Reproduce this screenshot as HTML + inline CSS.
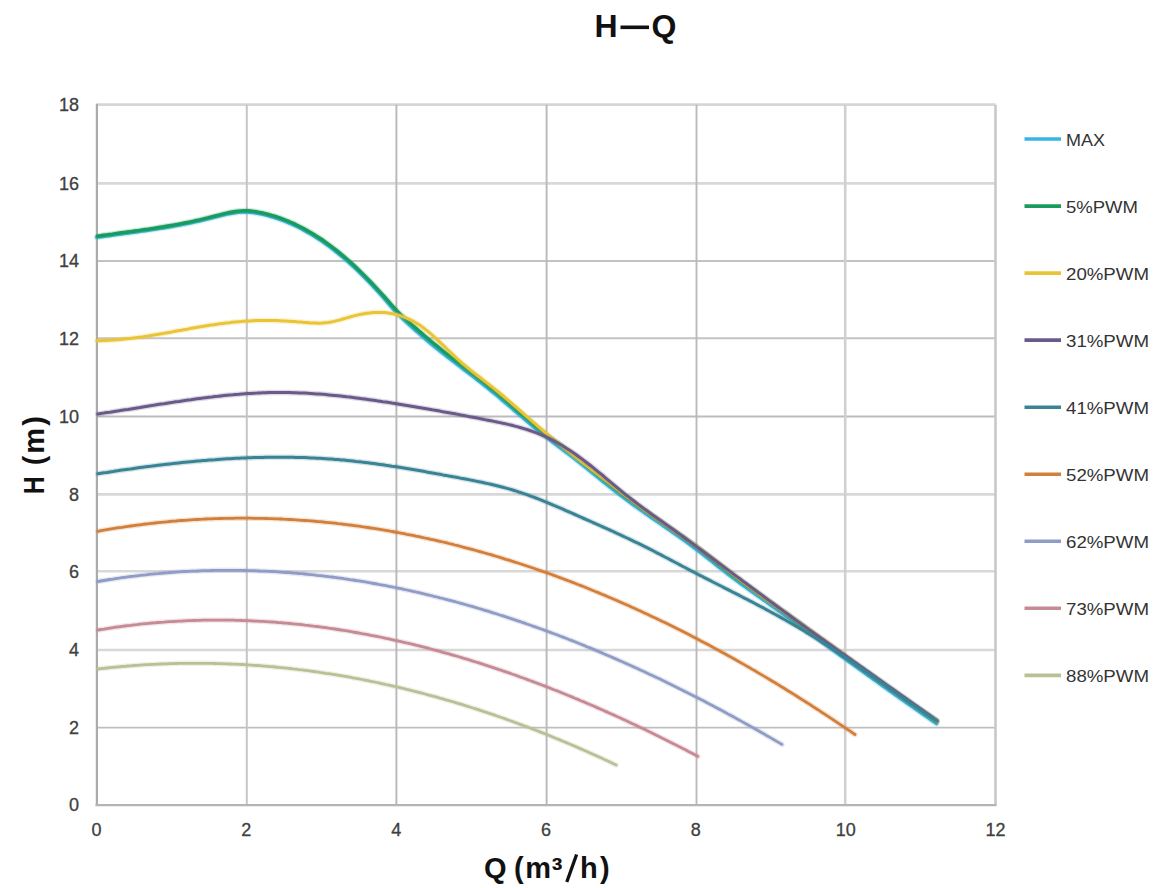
<!DOCTYPE html>
<html><head><meta charset="utf-8"><style>
html,body{margin:0;padding:0;background:#fff;}
body{width:1158px;height:888px;overflow:hidden;}
svg{display:block;}
.tk{font-family:"Liberation Sans",sans-serif;font-size:18px;fill:#404040;stroke:#404040;stroke-width:0.3px;}
.lg{font-family:"Liberation Sans",sans-serif;font-size:16.5px;fill:#333;}
.ttl{font-family:"Liberation Sans",sans-serif;font-weight:bold;fill:#111;}
</style></head><body>
<svg width="1158" height="888" viewBox="0 0 1158 888">
<rect width="1158" height="888" fill="#fff"/>
<line x1="96.5" y1="104.6" x2="995.5" y2="104.6" stroke="#d6d6d6" stroke-width="2.6"/>
<line x1="96.5" y1="183.4" x2="995.5" y2="183.4" stroke="#d8d8d8" stroke-width="2.6"/>
<line x1="96.5" y1="261.0" x2="995.5" y2="261.0" stroke="#c2c2c2" stroke-width="2.0"/>
<line x1="96.5" y1="338.2" x2="995.5" y2="338.2" stroke="#c3c3c3" stroke-width="2.0"/>
<line x1="96.5" y1="416.5" x2="995.5" y2="416.5" stroke="#bcbcbc" stroke-width="1.8"/>
<line x1="96.5" y1="494.4" x2="995.5" y2="494.4" stroke="#d8d8d8" stroke-width="2.6"/>
<line x1="96.5" y1="571.2" x2="995.5" y2="571.2" stroke="#d8d8d8" stroke-width="2.6"/>
<line x1="96.5" y1="650.0" x2="995.5" y2="650.0" stroke="#d8d8d8" stroke-width="2.6"/>
<line x1="96.5" y1="727.6" x2="995.5" y2="727.6" stroke="#bfbfbf" stroke-width="1.9"/>
<line x1="246.8" y1="104.8" x2="246.8" y2="805.0" stroke="#c6c6c6" stroke-width="2.0"/>
<line x1="396.4" y1="104.8" x2="396.4" y2="805.0" stroke="#b8b8b8" stroke-width="1.9"/>
<line x1="546.6" y1="104.8" x2="546.6" y2="805.0" stroke="#b9b9b9" stroke-width="1.9"/>
<line x1="696.5" y1="104.8" x2="696.5" y2="805.0" stroke="#bababa" stroke-width="1.9"/>
<line x1="845.2" y1="104.8" x2="845.2" y2="805.0" stroke="#d0d0d0" stroke-width="2.6"/>
<line x1="995.5" y1="104.8" x2="995.5" y2="805.0" stroke="#c8c8c8" stroke-width="2.6"/>
<line x1="96.9" y1="103.8" x2="96.9" y2="806.0" stroke="#ababab" stroke-width="2.2"/>
<line x1="95.5" y1="805.1" x2="996.5" y2="805.1" stroke="#b4b4b4" stroke-width="2.4"/>
<text x="79" y="811.00" text-anchor="end" class="tk">0</text>
<text x="79" y="733.90" text-anchor="end" class="tk">2</text>
<text x="79" y="656.40" text-anchor="end" class="tk">4</text>
<text x="79" y="577.50" text-anchor="end" class="tk">6</text>
<text x="79" y="500.70" text-anchor="end" class="tk">8</text>
<text x="79" y="422.90" text-anchor="end" class="tk">10</text>
<text x="79" y="344.50" text-anchor="end" class="tk">12</text>
<text x="79" y="267.20" text-anchor="end" class="tk">14</text>
<text x="79" y="189.70" text-anchor="end" class="tk">16</text>
<text x="79" y="110.90" text-anchor="end" class="tk">18</text>
<text x="96.50" y="835.8" text-anchor="middle" class="tk">0</text>
<text x="246.33" y="835.8" text-anchor="middle" class="tk">2</text>
<text x="396.17" y="835.8" text-anchor="middle" class="tk">4</text>
<text x="546.00" y="835.8" text-anchor="middle" class="tk">6</text>
<text x="695.83" y="835.8" text-anchor="middle" class="tk">8</text>
<text x="845.67" y="835.8" text-anchor="middle" class="tk">10</text>
<text x="995.50" y="835.8" text-anchor="middle" class="tk">12</text>
<path d="M96.9,237.4 L99.9,236.9 L102.9,236.5 L105.9,236.1 L108.9,235.7 L111.9,235.3 L114.9,234.8 L117.9,234.4 L120.9,234.0 L123.9,233.6 L126.9,233.2 L129.9,232.8 L132.9,232.4 L135.9,232.0 L138.9,231.6 L141.9,231.1 L144.9,230.7 L147.9,230.3 L150.9,229.8 L153.9,229.4 L156.9,228.9 L159.9,228.4 L162.9,228.0 L165.9,227.5 L168.9,227.0 L171.9,226.5 L174.9,225.9 L177.9,225.4 L180.9,224.8 L183.9,224.2 L186.9,223.6 L189.9,223.0 L192.9,222.4 L195.9,221.7 L198.9,221.1 L201.9,220.4 L204.9,219.6 L207.9,218.9 L210.9,218.1 L213.9,217.3 L216.9,216.5 L219.9,215.8 L222.9,215.0 L225.9,214.4 L228.9,213.7 L231.9,213.2 L234.9,212.7 L237.9,212.3 L240.9,212.1 L243.9,212.0 L246.9,212.0 L249.9,212.2 L252.9,212.6 L255.9,213.0 L258.9,213.6 L261.9,214.2 L264.9,214.9 L267.9,215.7 L270.9,216.5 L273.9,217.4 L276.9,218.4 L279.9,219.4 L282.9,220.5 L285.9,221.7 L288.9,222.9 L291.9,224.2 L294.9,225.6 L297.9,227.1 L300.9,228.6 L303.9,230.2 L306.9,231.9 L309.9,233.6 L312.9,235.4 L315.9,237.3 L318.9,239.2 L321.9,241.2 L324.9,243.3 L327.9,245.5 L330.9,247.7 L333.9,250.0 L336.9,252.4 L339.9,254.8 L342.9,257.3 L345.9,259.9 L348.9,262.5 L351.9,265.3 L354.9,268.0 L357.9,270.9 L360.9,273.8 L363.9,276.8 L366.9,279.8 L369.9,282.9 L372.9,286.1 L375.9,289.3 L378.9,292.6 L381.9,295.9 L384.9,299.4 L387.9,302.8 L390.9,306.3 L393.9,309.8 L396.9,313.0 L399.9,316.1 L402.9,318.9 L405.9,321.7 L408.9,324.5 L411.9,327.2 L414.9,329.9 L417.9,332.6 L420.9,335.2 L423.9,337.8 L426.9,340.4 L429.9,342.9 L432.9,345.4 L435.9,347.8 L438.9,350.2 L441.9,352.6 L444.9,355.0 L447.9,357.3 L450.9,359.6 L453.9,361.9 L456.9,364.2 L459.9,366.5 L462.9,368.8 L465.9,371.1 L468.9,373.4 L471.9,375.7 L474.9,378.0 L477.9,380.4 L480.9,382.7 L483.9,385.1 L486.9,387.5 L489.9,389.9 L492.9,392.3 L495.9,394.8 L498.9,397.3 L501.9,399.9 L504.9,402.4 L507.9,405.0 L510.9,407.5 L513.9,410.1 L516.9,412.7 L519.9,415.3 L522.9,417.8 L525.9,420.4 L528.9,422.9 L531.9,425.5 L534.9,428.0 L537.9,430.4 L540.9,432.9 L543.9,435.3 L546.9,437.7 L549.9,440.0 L552.9,442.3 L555.9,444.6 L558.9,446.8 L561.9,449.1 L564.9,451.4 L567.9,453.6 L570.9,455.9 L573.9,458.2 L576.9,460.6 L579.9,463.0 L582.9,465.3 L585.9,467.7 L588.9,470.2 L591.9,472.6 L594.9,475.0 L597.9,477.4 L600.9,479.9 L603.9,482.3 L606.9,484.7 L609.9,487.1 L612.9,489.5 L615.9,491.8 L618.9,494.1 L621.9,496.4 L624.9,498.7 L627.9,500.9 L630.9,503.1 L633.9,505.3 L636.9,507.5 L639.9,509.6 L642.9,511.7 L645.9,513.8 L648.9,515.9 L651.9,518.0 L654.9,520.1 L657.9,522.1 L660.9,524.2 L663.9,526.3 L666.9,528.3 L669.9,530.4 L672.9,532.5 L675.9,534.6 L678.9,536.7 L681.9,538.8 L684.9,541.0 L687.9,543.2 L690.9,545.4 L693.9,547.6 L696.9,549.8 L699.9,552.1 L702.9,554.5 L705.9,556.8 L708.9,559.1 L711.9,561.5 L714.9,563.9 L717.9,566.3 L720.9,568.6 L723.9,571.0 L726.9,573.3 L729.9,575.6 L732.9,577.9 L735.9,580.2 L738.9,582.4 L741.9,584.6 L744.9,586.7 L747.9,588.9 L750.9,591.0 L753.9,593.1 L756.9,595.3 L759.9,597.4 L762.9,599.6 L765.9,601.7 L768.9,603.9 L771.9,606.0 L774.9,608.2 L777.9,610.3 L780.9,612.5 L783.9,614.6 L786.9,616.8 L789.9,619.0 L792.9,621.1 L795.9,623.3 L798.9,625.5 L801.9,627.6 L804.9,629.8 L807.9,632.0 L810.9,634.1 L813.9,636.3 L816.9,638.5 L819.9,640.6 L822.9,642.8 L825.9,645.0 L828.9,647.2 L831.9,649.3 L834.9,651.5 L837.9,653.7 L840.9,655.8 L843.9,658.0 L846.9,660.2 L849.9,662.3 L852.9,664.5 L855.9,666.6 L858.9,668.8 L861.9,671.0 L864.9,673.1 L867.9,675.3 L870.9,677.4 L873.9,679.6 L876.9,681.7 L879.9,683.9 L882.9,686.0 L885.9,688.1 L888.9,690.3 L891.9,692.4 L894.9,694.5 L897.9,696.7 L900.9,698.8 L903.9,700.9 L906.9,703.0 L909.9,705.1 L912.9,707.2 L915.9,709.3 L918.9,711.4 L921.9,713.5 L924.9,715.6 L927.9,717.7 L930.9,719.8 L933.9,721.9 L936.4,723.6" fill="none" stroke="#38b4e6" stroke-opacity="0.22" stroke-width="6.0" stroke-linecap="round" stroke-linejoin="round"/><path d="M96.9,237.4 L99.9,236.9 L102.9,236.5 L105.9,236.1 L108.9,235.7 L111.9,235.3 L114.9,234.8 L117.9,234.4 L120.9,234.0 L123.9,233.6 L126.9,233.2 L129.9,232.8 L132.9,232.4 L135.9,232.0 L138.9,231.6 L141.9,231.1 L144.9,230.7 L147.9,230.3 L150.9,229.8 L153.9,229.4 L156.9,228.9 L159.9,228.4 L162.9,228.0 L165.9,227.5 L168.9,227.0 L171.9,226.5 L174.9,225.9 L177.9,225.4 L180.9,224.8 L183.9,224.2 L186.9,223.6 L189.9,223.0 L192.9,222.4 L195.9,221.7 L198.9,221.1 L201.9,220.4 L204.9,219.6 L207.9,218.9 L210.9,218.1 L213.9,217.3 L216.9,216.5 L219.9,215.8 L222.9,215.0 L225.9,214.4 L228.9,213.7 L231.9,213.2 L234.9,212.7 L237.9,212.3 L240.9,212.1 L243.9,212.0 L246.9,212.0 L249.9,212.2 L252.9,212.6 L255.9,213.0 L258.9,213.6 L261.9,214.2 L264.9,214.9 L267.9,215.7 L270.9,216.5 L273.9,217.4 L276.9,218.4 L279.9,219.4 L282.9,220.5 L285.9,221.7 L288.9,222.9 L291.9,224.2 L294.9,225.6 L297.9,227.1 L300.9,228.6 L303.9,230.2 L306.9,231.9 L309.9,233.6 L312.9,235.4 L315.9,237.3 L318.9,239.2 L321.9,241.2 L324.9,243.3 L327.9,245.5 L330.9,247.7 L333.9,250.0 L336.9,252.4 L339.9,254.8 L342.9,257.3 L345.9,259.9 L348.9,262.5 L351.9,265.3 L354.9,268.0 L357.9,270.9 L360.9,273.8 L363.9,276.8 L366.9,279.8 L369.9,282.9 L372.9,286.1 L375.9,289.3 L378.9,292.6 L381.9,295.9 L384.9,299.4 L387.9,302.8 L390.9,306.3 L393.9,309.8 L396.9,313.0 L399.9,316.1 L402.9,318.9 L405.9,321.7 L408.9,324.5 L411.9,327.2 L414.9,329.9 L417.9,332.6 L420.9,335.2 L423.9,337.8 L426.9,340.4 L429.9,342.9 L432.9,345.4 L435.9,347.8 L438.9,350.2 L441.9,352.6 L444.9,355.0 L447.9,357.3 L450.9,359.6 L453.9,361.9 L456.9,364.2 L459.9,366.5 L462.9,368.8 L465.9,371.1 L468.9,373.4 L471.9,375.7 L474.9,378.0 L477.9,380.4 L480.9,382.7 L483.9,385.1 L486.9,387.5 L489.9,389.9 L492.9,392.3 L495.9,394.8 L498.9,397.3 L501.9,399.9 L504.9,402.4 L507.9,405.0 L510.9,407.5 L513.9,410.1 L516.9,412.7 L519.9,415.3 L522.9,417.8 L525.9,420.4 L528.9,422.9 L531.9,425.5 L534.9,428.0 L537.9,430.4 L540.9,432.9 L543.9,435.3 L546.9,437.7 L549.9,440.0 L552.9,442.3 L555.9,444.6 L558.9,446.8 L561.9,449.1 L564.9,451.4 L567.9,453.6 L570.9,455.9 L573.9,458.2 L576.9,460.6 L579.9,463.0 L582.9,465.3 L585.9,467.7 L588.9,470.2 L591.9,472.6 L594.9,475.0 L597.9,477.4 L600.9,479.9 L603.9,482.3 L606.9,484.7 L609.9,487.1 L612.9,489.5 L615.9,491.8 L618.9,494.1 L621.9,496.4 L624.9,498.7 L627.9,500.9 L630.9,503.1 L633.9,505.3 L636.9,507.5 L639.9,509.6 L642.9,511.7 L645.9,513.8 L648.9,515.9 L651.9,518.0 L654.9,520.1 L657.9,522.1 L660.9,524.2 L663.9,526.3 L666.9,528.3 L669.9,530.4 L672.9,532.5 L675.9,534.6 L678.9,536.7 L681.9,538.8 L684.9,541.0 L687.9,543.2 L690.9,545.4 L693.9,547.6 L696.9,549.8 L699.9,552.1 L702.9,554.5 L705.9,556.8 L708.9,559.1 L711.9,561.5 L714.9,563.9 L717.9,566.3 L720.9,568.6 L723.9,571.0 L726.9,573.3 L729.9,575.6 L732.9,577.9 L735.9,580.2 L738.9,582.4 L741.9,584.6 L744.9,586.7 L747.9,588.9 L750.9,591.0 L753.9,593.1 L756.9,595.3 L759.9,597.4 L762.9,599.6 L765.9,601.7 L768.9,603.9 L771.9,606.0 L774.9,608.2 L777.9,610.3 L780.9,612.5 L783.9,614.6 L786.9,616.8 L789.9,619.0 L792.9,621.1 L795.9,623.3 L798.9,625.5 L801.9,627.6 L804.9,629.8 L807.9,632.0 L810.9,634.1 L813.9,636.3 L816.9,638.5 L819.9,640.6 L822.9,642.8 L825.9,645.0 L828.9,647.2 L831.9,649.3 L834.9,651.5 L837.9,653.7 L840.9,655.8 L843.9,658.0 L846.9,660.2 L849.9,662.3 L852.9,664.5 L855.9,666.6 L858.9,668.8 L861.9,671.0 L864.9,673.1 L867.9,675.3 L870.9,677.4 L873.9,679.6 L876.9,681.7 L879.9,683.9 L882.9,686.0 L885.9,688.1 L888.9,690.3 L891.9,692.4 L894.9,694.5 L897.9,696.7 L900.9,698.8 L903.9,700.9 L906.9,703.0 L909.9,705.1 L912.9,707.2 L915.9,709.3 L918.9,711.4 L921.9,713.5 L924.9,715.6 L927.9,717.7 L930.9,719.8 L933.9,721.9 L936.4,723.6" fill="none" stroke="#38b4e6" stroke-width="3.4" stroke-linecap="round" stroke-linejoin="round"/>
<path d="M97.5,236.2 L100.5,235.7 L103.5,235.3 L106.5,234.9 L109.5,234.5 L112.5,234.1 L115.5,233.6 L118.5,233.2 L121.5,232.8 L124.5,232.4 L127.5,232.0 L130.5,231.6 L133.5,231.2 L136.5,230.8 L139.5,230.4 L142.5,229.9 L145.5,229.5 L148.5,229.1 L151.5,228.6 L154.5,228.2 L157.5,227.7 L160.5,227.2 L163.5,226.8 L166.5,226.3 L169.5,225.8 L172.5,225.3 L175.5,224.7 L178.5,224.2 L181.5,223.6 L184.5,223.0 L187.5,222.4 L190.5,221.8 L193.5,221.2 L196.5,220.5 L199.5,219.9 L202.5,219.2 L205.5,218.4 L208.5,217.7 L211.5,216.9 L214.5,216.1 L217.5,215.3 L220.5,214.6 L223.5,213.8 L226.5,213.2 L229.5,212.5 L232.5,212.0 L235.5,211.5 L238.5,211.1 L241.5,210.9 L244.5,210.8 L247.5,210.8 L250.5,211.0 L253.5,211.4 L256.5,211.8 L259.5,212.4 L262.5,213.0 L265.5,213.7 L268.5,214.5 L271.5,215.3 L274.5,216.2 L277.5,217.2 L280.5,218.2 L283.5,219.3 L286.5,220.5 L289.5,221.7 L292.5,223.0 L295.5,224.4 L298.5,225.9 L301.5,227.4 L304.5,229.0 L307.5,230.7 L310.5,232.4 L313.5,234.2 L316.5,236.1 L319.5,238.0 L322.5,240.0 L325.5,242.1 L328.5,244.3 L331.5,246.5 L334.5,248.8 L337.5,251.2 L340.5,253.6 L343.5,256.1 L346.5,258.7 L349.5,261.3 L352.5,264.1 L355.5,266.8 L358.5,269.7 L361.5,272.6 L364.5,275.6 L367.5,278.6 L370.5,281.7 L373.5,284.9 L376.5,288.1 L379.5,291.4 L382.5,294.7 L385.5,298.0 L388.5,301.4 L391.5,304.9 L394.5,308.2 L397.5,311.4 L400.5,314.4 L403.5,317.2 L406.5,319.9 L409.5,322.6 L412.5,325.3 L415.5,327.9 L418.5,330.5 L421.5,333.1 L424.5,335.7 L427.5,338.3 L430.5,340.8 L433.5,343.3 L436.5,345.7 L439.5,348.1 L442.5,350.5 L445.5,352.9 L448.5,355.2 L451.5,357.5 L454.5,359.8 L457.5,362.1 L460.5,364.4 L463.5,366.7 L466.5,369.0 L469.5,371.3 L472.5,373.6 L475.5,375.9 L478.5,378.3 L481.5,380.6 L484.5,383.0 L487.5,385.4 L490.5,387.8 L493.5,390.2 L496.5,392.7 L499.5,395.2 L502.5,397.8 L505.5,400.3 L508.5,402.9 L511.5,405.4 L514.5,408.0 L517.5,410.6 L520.5,413.2 L523.5,415.7 L526.5,418.3 L529.5,420.8 L532.5,423.4 L535.5,425.9 L538.5,428.3 L541.5,430.8 L544.5,433.2 L547.5,435.6 L550.5,437.9 L553.5,440.2 L556.5,442.5 L559.5,444.7 L562.5,447.0 L565.5,449.3 L568.5,451.5 L571.5,453.8 L574.5,456.1 L577.5,458.5 L580.5,460.9 L583.5,463.2 L586.5,465.6 L589.5,468.1 L592.5,470.5 L595.5,472.9 L598.5,475.3 L601.5,477.8 L604.5,480.2 L607.5,482.6 L610.5,485.0 L613.5,487.4 L616.5,489.7 L619.5,492.0 L622.5,494.3 L625.5,496.6 L628.5,498.8 L631.5,501.0 L634.5,503.2 L637.5,505.4 L640.5,507.5 L643.5,509.6 L646.5,511.7 L649.5,513.8 L652.5,515.9 L655.5,518.0 L658.5,520.0 L661.5,522.1 L664.5,524.2 L667.5,526.2 L670.5,528.3 L673.5,530.4 L676.5,532.5 L679.5,534.6 L682.5,536.7 L685.5,538.9 L688.5,541.1 L691.5,543.3 L694.5,545.5 L697.5,547.7 L700.5,550.0 L703.5,552.4 L706.5,554.7 L709.5,557.0 L712.5,559.4 L715.5,561.8 L718.5,564.2 L721.5,566.5 L724.5,568.9 L727.5,571.2 L730.5,573.5 L733.5,575.8 L736.5,578.1 L739.5,580.3 L742.5,582.5 L745.5,584.6 L748.5,586.8 L751.5,588.9 L754.5,591.0 L757.5,593.2 L760.5,595.3 L763.5,597.5 L766.5,599.6 L769.5,601.8 L772.5,603.9 L775.5,606.1 L778.5,608.2 L781.5,610.4 L784.5,612.5 L787.5,614.7 L790.5,616.9 L793.5,619.0 L796.5,621.2 L799.5,623.4 L802.5,625.5 L805.5,627.7 L808.5,629.9 L811.5,632.0 L814.5,634.2 L817.5,636.4 L820.5,638.5 L823.5,640.7 L826.5,642.9 L829.5,645.1 L832.5,647.2 L835.5,649.4 L838.5,651.6 L841.5,653.7 L844.5,655.9 L847.5,658.1 L850.5,660.2 L853.5,662.4 L856.5,664.5 L859.5,666.7 L862.5,668.9 L865.5,671.0 L868.5,673.2 L871.5,675.3 L874.5,677.5 L877.5,679.6 L880.5,681.8 L883.5,683.9 L886.5,686.0 L889.5,688.2 L892.5,690.3 L895.5,692.4 L898.5,694.6 L901.5,696.7 L904.5,698.8 L907.5,700.9 L910.5,703.0 L913.5,705.1 L916.5,707.2 L919.5,709.3 L922.5,711.4 L925.5,713.5 L928.5,715.6 L931.5,717.7 L934.5,719.8 L937.0,721.5" fill="none" stroke="#1a9a5c" stroke-opacity="0.22" stroke-width="6.0" stroke-linecap="round" stroke-linejoin="round"/><path d="M97.5,236.2 L100.5,235.7 L103.5,235.3 L106.5,234.9 L109.5,234.5 L112.5,234.1 L115.5,233.6 L118.5,233.2 L121.5,232.8 L124.5,232.4 L127.5,232.0 L130.5,231.6 L133.5,231.2 L136.5,230.8 L139.5,230.4 L142.5,229.9 L145.5,229.5 L148.5,229.1 L151.5,228.6 L154.5,228.2 L157.5,227.7 L160.5,227.2 L163.5,226.8 L166.5,226.3 L169.5,225.8 L172.5,225.3 L175.5,224.7 L178.5,224.2 L181.5,223.6 L184.5,223.0 L187.5,222.4 L190.5,221.8 L193.5,221.2 L196.5,220.5 L199.5,219.9 L202.5,219.2 L205.5,218.4 L208.5,217.7 L211.5,216.9 L214.5,216.1 L217.5,215.3 L220.5,214.6 L223.5,213.8 L226.5,213.2 L229.5,212.5 L232.5,212.0 L235.5,211.5 L238.5,211.1 L241.5,210.9 L244.5,210.8 L247.5,210.8 L250.5,211.0 L253.5,211.4 L256.5,211.8 L259.5,212.4 L262.5,213.0 L265.5,213.7 L268.5,214.5 L271.5,215.3 L274.5,216.2 L277.5,217.2 L280.5,218.2 L283.5,219.3 L286.5,220.5 L289.5,221.7 L292.5,223.0 L295.5,224.4 L298.5,225.9 L301.5,227.4 L304.5,229.0 L307.5,230.7 L310.5,232.4 L313.5,234.2 L316.5,236.1 L319.5,238.0 L322.5,240.0 L325.5,242.1 L328.5,244.3 L331.5,246.5 L334.5,248.8 L337.5,251.2 L340.5,253.6 L343.5,256.1 L346.5,258.7 L349.5,261.3 L352.5,264.1 L355.5,266.8 L358.5,269.7 L361.5,272.6 L364.5,275.6 L367.5,278.6 L370.5,281.7 L373.5,284.9 L376.5,288.1 L379.5,291.4 L382.5,294.7 L385.5,298.0 L388.5,301.4 L391.5,304.9 L394.5,308.2 L397.5,311.4 L400.5,314.4 L403.5,317.2 L406.5,319.9 L409.5,322.6 L412.5,325.3 L415.5,327.9 L418.5,330.5 L421.5,333.1 L424.5,335.7 L427.5,338.3 L430.5,340.8 L433.5,343.3 L436.5,345.7 L439.5,348.1 L442.5,350.5 L445.5,352.9 L448.5,355.2 L451.5,357.5 L454.5,359.8 L457.5,362.1 L460.5,364.4 L463.5,366.7 L466.5,369.0 L469.5,371.3 L472.5,373.6 L475.5,375.9 L478.5,378.3 L481.5,380.6 L484.5,383.0 L487.5,385.4 L490.5,387.8 L493.5,390.2 L496.5,392.7 L499.5,395.2 L502.5,397.8 L505.5,400.3 L508.5,402.9 L511.5,405.4 L514.5,408.0 L517.5,410.6 L520.5,413.2 L523.5,415.7 L526.5,418.3 L529.5,420.8 L532.5,423.4 L535.5,425.9 L538.5,428.3 L541.5,430.8 L544.5,433.2 L547.5,435.6 L550.5,437.9 L553.5,440.2 L556.5,442.5 L559.5,444.7 L562.5,447.0 L565.5,449.3 L568.5,451.5 L571.5,453.8 L574.5,456.1 L577.5,458.5 L580.5,460.9 L583.5,463.2 L586.5,465.6 L589.5,468.1 L592.5,470.5 L595.5,472.9 L598.5,475.3 L601.5,477.8 L604.5,480.2 L607.5,482.6 L610.5,485.0 L613.5,487.4 L616.5,489.7 L619.5,492.0 L622.5,494.3 L625.5,496.6 L628.5,498.8 L631.5,501.0 L634.5,503.2 L637.5,505.4 L640.5,507.5 L643.5,509.6 L646.5,511.7 L649.5,513.8 L652.5,515.9 L655.5,518.0 L658.5,520.0 L661.5,522.1 L664.5,524.2 L667.5,526.2 L670.5,528.3 L673.5,530.4 L676.5,532.5 L679.5,534.6 L682.5,536.7 L685.5,538.9 L688.5,541.1 L691.5,543.3 L694.5,545.5 L697.5,547.7 L700.5,550.0 L703.5,552.4 L706.5,554.7 L709.5,557.0 L712.5,559.4 L715.5,561.8 L718.5,564.2 L721.5,566.5 L724.5,568.9 L727.5,571.2 L730.5,573.5 L733.5,575.8 L736.5,578.1 L739.5,580.3 L742.5,582.5 L745.5,584.6 L748.5,586.8 L751.5,588.9 L754.5,591.0 L757.5,593.2 L760.5,595.3 L763.5,597.5 L766.5,599.6 L769.5,601.8 L772.5,603.9 L775.5,606.1 L778.5,608.2 L781.5,610.4 L784.5,612.5 L787.5,614.7 L790.5,616.9 L793.5,619.0 L796.5,621.2 L799.5,623.4 L802.5,625.5 L805.5,627.7 L808.5,629.9 L811.5,632.0 L814.5,634.2 L817.5,636.4 L820.5,638.5 L823.5,640.7 L826.5,642.9 L829.5,645.1 L832.5,647.2 L835.5,649.4 L838.5,651.6 L841.5,653.7 L844.5,655.9 L847.5,658.1 L850.5,660.2 L853.5,662.4 L856.5,664.5 L859.5,666.7 L862.5,668.9 L865.5,671.0 L868.5,673.2 L871.5,675.3 L874.5,677.5 L877.5,679.6 L880.5,681.8 L883.5,683.9 L886.5,686.0 L889.5,688.2 L892.5,690.3 L895.5,692.4 L898.5,694.6 L901.5,696.7 L904.5,698.8 L907.5,700.9 L910.5,703.0 L913.5,705.1 L916.5,707.2 L919.5,709.3 L922.5,711.4 L925.5,713.5 L928.5,715.6 L931.5,717.7 L934.5,719.8 L937.0,721.5" fill="none" stroke="#1a9a5c" stroke-width="3.4" stroke-linecap="round" stroke-linejoin="round"/>
<path d="M97.0,340.7 L100.0,340.7 L103.0,340.6 L106.0,340.5 L109.0,340.3 L112.0,340.1 L115.0,339.9 L118.0,339.7 L121.0,339.4 L124.0,339.1 L127.0,338.8 L130.0,338.5 L133.0,338.1 L136.0,337.7 L139.0,337.3 L142.0,336.9 L145.0,336.4 L148.0,336.0 L151.0,335.5 L154.0,335.0 L157.0,334.5 L160.0,334.0 L163.0,333.5 L166.0,332.9 L169.0,332.4 L172.0,331.9 L175.0,331.3 L178.0,330.8 L181.0,330.3 L184.0,329.7 L187.0,329.2 L190.0,328.6 L193.0,328.1 L196.0,327.6 L199.0,327.1 L202.0,326.6 L205.0,326.1 L208.0,325.6 L211.0,325.1 L214.0,324.7 L217.0,324.2 L220.0,323.8 L223.0,323.4 L226.0,323.0 L229.0,322.7 L232.0,322.3 L235.0,322.0 L238.0,321.7 L241.0,321.5 L244.0,321.2 L247.0,321.0 L250.0,320.9 L253.0,320.7 L256.0,320.6 L259.0,320.5 L262.0,320.5 L265.0,320.5 L268.0,320.5 L271.0,320.5 L274.0,320.5 L277.0,320.6 L280.0,320.7 L283.0,320.9 L286.0,321.0 L289.0,321.2 L292.0,321.4 L295.0,321.6 L298.0,321.9 L301.0,322.1 L304.0,322.4 L307.0,322.6 L310.0,322.9 L313.0,323.0 L316.0,323.1 L319.0,323.2 L322.0,323.1 L325.0,322.8 L328.0,322.5 L331.0,322.0 L334.0,321.4 L337.0,320.6 L340.0,319.9 L343.0,319.0 L346.0,318.1 L349.0,317.3 L352.0,316.4 L355.0,315.6 L358.0,314.9 L361.0,314.3 L364.0,313.7 L367.0,313.2 L370.0,312.9 L373.0,312.6 L376.0,312.4 L379.0,312.4 L382.0,312.4 L385.0,312.6 L388.0,312.9 L391.0,313.4 L394.0,314.0 L397.0,314.7 L400.0,315.6 L403.0,316.6 L406.0,317.8 L409.0,319.1 L412.0,320.6 L415.0,322.3 L418.0,324.1 L421.0,326.1 L424.0,328.3 L427.0,330.7 L430.0,333.2 L433.0,335.8 L436.0,338.6 L439.0,341.3 L442.0,344.2 L445.0,347.1 L448.0,350.0 L451.0,352.9 L454.0,355.7 L457.0,358.5 L460.0,361.2 L463.0,363.9 L466.0,366.4 L469.0,368.9 L472.0,371.3 L475.0,373.7 L478.0,376.0 L481.0,378.3 L484.0,380.6 L487.0,382.9 L490.0,385.3 L493.0,387.7 L496.0,390.1 L499.0,392.5 L502.0,395.0 L505.0,397.6 L508.0,400.1 L511.0,402.7 L514.0,405.3 L517.0,407.9 L520.0,410.5 L523.0,413.2 L526.0,415.8 L529.0,418.5 L532.0,421.1 L535.0,423.7 L538.0,426.3 L541.0,428.9 L544.0,431.5 L547.0,434.0 L550.0,436.6 L553.0,439.0 L556.0,441.5 L559.0,443.9 L562.0,446.4 L565.0,448.8 L568.0,451.1 L571.0,453.5 L574.0,455.8 L577.0,458.2 L580.0,460.5 L583.0,462.8 L586.0,465.1 L589.0,467.4 L592.0,469.8 L595.0,472.1 L598.0,474.4 L601.0,476.7 L604.0,479.0 L607.0,481.3 L610.0,483.7 L613.0,486.0 L616.0,488.3 L619.0,490.6 L622.0,493.0 L625.0,495.3 L628.0,497.6 L631.0,499.9 L634.0,502.2 L637.0,504.4 L640.0,506.6 L643.0,508.9 L646.0,511.0 L649.0,513.2 L652.0,515.3 L655.0,517.4 L658.0,519.5 L661.0,521.6 L664.0,523.7 L667.0,525.7 L670.0,527.8 L673.0,529.9 L676.0,531.9 L679.0,534.0 L682.0,536.1 L685.0,538.1 L688.0,540.3 L691.0,542.4 L694.0,544.5 L697.0,546.7 L700.0,548.9 L703.0,551.2 L706.0,553.4 L709.0,555.7 L712.0,558.0 L715.0,560.3 L718.0,562.7 L721.0,565.0 L724.0,567.3 L727.0,569.7 L730.0,572.0 L733.0,574.4 L736.0,576.7 L739.0,579.0 L742.0,581.3 L745.0,583.6 L748.0,585.9 L751.0,588.1 L754.0,590.3 L757.0,592.5 L760.0,594.7 L763.0,596.9 L766.0,599.1 L769.0,601.2 L772.0,603.3 L775.0,605.5 L778.0,607.6 L781.0,609.7 L784.0,611.8 L787.0,613.9 L790.0,616.1 L793.0,618.2 L796.0,620.3 L799.0,622.4 L802.0,624.6 L805.0,626.7 L808.0,628.8 L811.0,631.0 L814.0,633.1 L817.0,635.3 L820.0,637.5 L823.0,639.6 L826.0,641.8 L829.0,643.9 L832.0,646.1 L835.0,648.3 L838.0,650.5 L841.0,652.6 L844.0,654.8 L847.0,657.0 L850.0,659.1 L853.0,661.3 L856.0,663.5 L859.0,665.7 L862.0,667.8 L865.0,670.0 L868.0,672.2 L871.0,674.3 L874.0,676.5 L877.0,678.6 L880.0,680.8 L883.0,683.0 L886.0,685.1 L889.0,687.3 L892.0,689.4 L895.0,691.5 L898.0,693.7 L901.0,695.8 L904.0,697.9 L907.0,700.0 L910.0,702.2 L913.0,704.3 L916.0,706.4 L919.0,708.5 L922.0,710.6 L925.0,712.6 L928.0,714.7 L931.0,716.8 L934.0,718.8 L937.0,720.9" fill="none" stroke="#eac437" stroke-opacity="0.22" stroke-width="5.6" stroke-linecap="round" stroke-linejoin="round"/><path d="M97.0,340.7 L100.0,340.7 L103.0,340.6 L106.0,340.5 L109.0,340.3 L112.0,340.1 L115.0,339.9 L118.0,339.7 L121.0,339.4 L124.0,339.1 L127.0,338.8 L130.0,338.5 L133.0,338.1 L136.0,337.7 L139.0,337.3 L142.0,336.9 L145.0,336.4 L148.0,336.0 L151.0,335.5 L154.0,335.0 L157.0,334.5 L160.0,334.0 L163.0,333.5 L166.0,332.9 L169.0,332.4 L172.0,331.9 L175.0,331.3 L178.0,330.8 L181.0,330.3 L184.0,329.7 L187.0,329.2 L190.0,328.6 L193.0,328.1 L196.0,327.6 L199.0,327.1 L202.0,326.6 L205.0,326.1 L208.0,325.6 L211.0,325.1 L214.0,324.7 L217.0,324.2 L220.0,323.8 L223.0,323.4 L226.0,323.0 L229.0,322.7 L232.0,322.3 L235.0,322.0 L238.0,321.7 L241.0,321.5 L244.0,321.2 L247.0,321.0 L250.0,320.9 L253.0,320.7 L256.0,320.6 L259.0,320.5 L262.0,320.5 L265.0,320.5 L268.0,320.5 L271.0,320.5 L274.0,320.5 L277.0,320.6 L280.0,320.7 L283.0,320.9 L286.0,321.0 L289.0,321.2 L292.0,321.4 L295.0,321.6 L298.0,321.9 L301.0,322.1 L304.0,322.4 L307.0,322.6 L310.0,322.9 L313.0,323.0 L316.0,323.1 L319.0,323.2 L322.0,323.1 L325.0,322.8 L328.0,322.5 L331.0,322.0 L334.0,321.4 L337.0,320.6 L340.0,319.9 L343.0,319.0 L346.0,318.1 L349.0,317.3 L352.0,316.4 L355.0,315.6 L358.0,314.9 L361.0,314.3 L364.0,313.7 L367.0,313.2 L370.0,312.9 L373.0,312.6 L376.0,312.4 L379.0,312.4 L382.0,312.4 L385.0,312.6 L388.0,312.9 L391.0,313.4 L394.0,314.0 L397.0,314.7 L400.0,315.6 L403.0,316.6 L406.0,317.8 L409.0,319.1 L412.0,320.6 L415.0,322.3 L418.0,324.1 L421.0,326.1 L424.0,328.3 L427.0,330.7 L430.0,333.2 L433.0,335.8 L436.0,338.6 L439.0,341.3 L442.0,344.2 L445.0,347.1 L448.0,350.0 L451.0,352.9 L454.0,355.7 L457.0,358.5 L460.0,361.2 L463.0,363.9 L466.0,366.4 L469.0,368.9 L472.0,371.3 L475.0,373.7 L478.0,376.0 L481.0,378.3 L484.0,380.6 L487.0,382.9 L490.0,385.3 L493.0,387.7 L496.0,390.1 L499.0,392.5 L502.0,395.0 L505.0,397.6 L508.0,400.1 L511.0,402.7 L514.0,405.3 L517.0,407.9 L520.0,410.5 L523.0,413.2 L526.0,415.8 L529.0,418.5 L532.0,421.1 L535.0,423.7 L538.0,426.3 L541.0,428.9 L544.0,431.5 L547.0,434.0 L550.0,436.6 L553.0,439.0 L556.0,441.5 L559.0,443.9 L562.0,446.4 L565.0,448.8 L568.0,451.1 L571.0,453.5 L574.0,455.8 L577.0,458.2 L580.0,460.5 L583.0,462.8 L586.0,465.1 L589.0,467.4 L592.0,469.8 L595.0,472.1 L598.0,474.4 L601.0,476.7 L604.0,479.0 L607.0,481.3 L610.0,483.7 L613.0,486.0 L616.0,488.3 L619.0,490.6 L622.0,493.0 L625.0,495.3 L628.0,497.6 L631.0,499.9 L634.0,502.2 L637.0,504.4 L640.0,506.6 L643.0,508.9 L646.0,511.0 L649.0,513.2 L652.0,515.3 L655.0,517.4 L658.0,519.5 L661.0,521.6 L664.0,523.7 L667.0,525.7 L670.0,527.8 L673.0,529.9 L676.0,531.9 L679.0,534.0 L682.0,536.1 L685.0,538.1 L688.0,540.3 L691.0,542.4 L694.0,544.5 L697.0,546.7 L700.0,548.9 L703.0,551.2 L706.0,553.4 L709.0,555.7 L712.0,558.0 L715.0,560.3 L718.0,562.7 L721.0,565.0 L724.0,567.3 L727.0,569.7 L730.0,572.0 L733.0,574.4 L736.0,576.7 L739.0,579.0 L742.0,581.3 L745.0,583.6 L748.0,585.9 L751.0,588.1 L754.0,590.3 L757.0,592.5 L760.0,594.7 L763.0,596.9 L766.0,599.1 L769.0,601.2 L772.0,603.3 L775.0,605.5 L778.0,607.6 L781.0,609.7 L784.0,611.8 L787.0,613.9 L790.0,616.1 L793.0,618.2 L796.0,620.3 L799.0,622.4 L802.0,624.6 L805.0,626.7 L808.0,628.8 L811.0,631.0 L814.0,633.1 L817.0,635.3 L820.0,637.5 L823.0,639.6 L826.0,641.8 L829.0,643.9 L832.0,646.1 L835.0,648.3 L838.0,650.5 L841.0,652.6 L844.0,654.8 L847.0,657.0 L850.0,659.1 L853.0,661.3 L856.0,663.5 L859.0,665.7 L862.0,667.8 L865.0,670.0 L868.0,672.2 L871.0,674.3 L874.0,676.5 L877.0,678.6 L880.0,680.8 L883.0,683.0 L886.0,685.1 L889.0,687.3 L892.0,689.4 L895.0,691.5 L898.0,693.7 L901.0,695.8 L904.0,697.9 L907.0,700.0 L910.0,702.2 L913.0,704.3 L916.0,706.4 L919.0,708.5 L922.0,710.6 L925.0,712.6 L928.0,714.7 L931.0,716.8 L934.0,718.8 L937.0,720.9" fill="none" stroke="#eac437" stroke-width="3" stroke-linecap="round" stroke-linejoin="round"/>
<path d="M97.9,414.0 L100.9,413.5 L103.9,413.1 L106.9,412.6 L109.9,412.2 L112.9,411.7 L115.9,411.2 L118.9,410.8 L121.9,410.3 L124.9,409.8 L127.9,409.4 L130.9,408.9 L133.9,408.4 L136.9,407.9 L139.9,407.5 L142.9,407.0 L145.9,406.5 L148.9,406.0 L151.9,405.5 L154.9,405.1 L157.9,404.6 L160.9,404.1 L163.9,403.7 L166.9,403.2 L169.9,402.7 L172.9,402.3 L175.9,401.8 L178.9,401.4 L181.9,400.9 L184.9,400.5 L187.9,400.1 L190.9,399.7 L193.9,399.2 L196.9,398.8 L199.9,398.4 L202.9,398.1 L205.9,397.7 L208.9,397.3 L211.9,397.0 L214.9,396.6 L217.9,396.3 L220.9,395.9 L223.9,395.6 L226.9,395.3 L229.9,395.0 L232.9,394.8 L235.9,394.5 L238.9,394.3 L241.9,394.0 L244.9,393.8 L247.9,393.6 L250.9,393.4 L253.9,393.2 L256.9,393.1 L259.9,392.9 L262.9,392.8 L265.9,392.7 L268.9,392.6 L271.9,392.6 L274.9,392.5 L277.9,392.5 L280.9,392.5 L283.9,392.5 L286.9,392.5 L289.9,392.6 L292.9,392.7 L295.9,392.8 L298.9,392.9 L301.9,393.0 L304.9,393.1 L307.9,393.3 L310.9,393.5 L313.9,393.7 L316.9,393.9 L319.9,394.1 L322.9,394.3 L325.9,394.6 L328.9,394.9 L331.9,395.2 L334.9,395.5 L337.9,395.8 L340.9,396.1 L343.9,396.4 L346.9,396.8 L349.9,397.1 L352.9,397.5 L355.9,397.9 L358.9,398.3 L361.9,398.7 L364.9,399.1 L367.9,399.5 L370.9,399.9 L373.9,400.3 L376.9,400.8 L379.9,401.2 L382.9,401.7 L385.9,402.1 L388.9,402.6 L391.9,403.1 L394.9,403.5 L397.9,404.0 L400.9,404.5 L403.9,405.0 L406.9,405.5 L409.9,406.0 L412.9,406.5 L415.9,407.0 L418.9,407.5 L421.9,408.0 L424.9,408.5 L427.9,409.0 L430.9,409.5 L433.9,410.1 L436.9,410.6 L439.9,411.1 L442.9,411.7 L445.9,412.2 L448.9,412.7 L451.9,413.3 L454.9,413.8 L457.9,414.4 L460.9,415.0 L463.9,415.5 L466.9,416.1 L469.9,416.7 L472.9,417.2 L475.9,417.8 L478.9,418.4 L481.9,419.0 L484.9,419.6 L487.9,420.2 L490.9,420.8 L493.9,421.4 L496.9,422.0 L499.9,422.6 L502.9,423.3 L505.9,423.9 L508.9,424.6 L511.9,425.3 L514.9,426.1 L517.9,426.9 L520.9,427.7 L523.9,428.6 L526.9,429.5 L529.9,430.5 L532.9,431.6 L535.9,432.7 L538.9,433.8 L541.9,435.1 L544.9,436.4 L547.9,437.8 L550.9,439.3 L553.9,440.9 L556.9,442.5 L559.9,444.2 L562.9,446.0 L565.9,447.9 L568.9,449.8 L571.9,451.8 L574.9,453.8 L577.9,455.9 L580.9,458.1 L583.9,460.4 L586.9,462.7 L589.9,465.0 L592.9,467.4 L595.9,469.8 L598.9,472.3 L601.9,474.7 L604.9,477.3 L607.9,479.8 L610.9,482.3 L613.9,484.8 L616.9,487.4 L619.9,489.9 L622.9,492.3 L625.9,494.8 L628.9,497.2 L631.9,499.5 L634.9,501.8 L637.9,504.1 L640.9,506.4 L643.9,508.6 L646.9,510.8 L649.9,513.0 L652.9,515.2 L655.9,517.3 L658.9,519.5 L661.9,521.6 L664.9,523.7 L667.9,525.9 L670.9,528.0 L673.9,530.1 L676.9,532.2 L679.9,534.4 L682.9,536.5 L685.9,538.7 L688.9,540.9 L691.9,543.1 L694.9,545.3 L697.9,547.6 L700.9,549.8 L703.9,552.0 L706.9,554.2 L709.9,556.5 L712.9,558.7 L715.9,560.9 L718.9,563.2 L721.9,565.4 L724.9,567.7 L727.9,569.9 L730.9,572.1 L733.9,574.4 L736.9,576.6 L739.9,578.8 L742.9,581.1 L745.9,583.3 L748.9,585.5 L751.9,587.7 L754.9,590.0 L757.9,592.2 L760.9,594.4 L763.9,596.6 L766.9,598.9 L769.9,601.1 L772.9,603.3 L775.9,605.5 L778.9,607.7 L781.9,609.9 L784.9,612.1 L787.9,614.3 L790.9,616.5 L793.9,618.7 L796.9,620.9 L799.9,623.0 L802.9,625.2 L805.9,627.4 L808.9,629.6 L811.9,631.7 L814.9,633.9 L817.9,636.0 L820.9,638.2 L823.9,640.3 L826.9,642.5 L829.9,644.6 L832.9,646.8 L835.9,648.9 L838.9,651.0 L841.9,653.2 L844.9,655.3 L847.9,657.5 L850.9,659.6 L853.9,661.7 L856.9,663.8 L859.9,666.0 L862.9,668.1 L865.9,670.2 L868.9,672.3 L871.9,674.5 L874.9,676.6 L877.9,678.7 L880.9,680.8 L883.9,682.9 L886.9,685.1 L889.9,687.2 L892.9,689.3 L895.9,691.4 L898.9,693.5 L901.9,695.7 L904.9,697.8 L907.9,699.9 L910.9,702.0 L913.9,704.2 L916.9,706.3 L919.9,708.4 L922.9,710.5 L925.9,712.7 L928.9,714.8 L931.9,716.9 L934.9,719.1 L937.0,720.6" fill="none" stroke="#6a5a8a" stroke-opacity="0.22" stroke-width="5.6" stroke-linecap="round" stroke-linejoin="round"/><path d="M97.9,414.0 L100.9,413.5 L103.9,413.1 L106.9,412.6 L109.9,412.2 L112.9,411.7 L115.9,411.2 L118.9,410.8 L121.9,410.3 L124.9,409.8 L127.9,409.4 L130.9,408.9 L133.9,408.4 L136.9,407.9 L139.9,407.5 L142.9,407.0 L145.9,406.5 L148.9,406.0 L151.9,405.5 L154.9,405.1 L157.9,404.6 L160.9,404.1 L163.9,403.7 L166.9,403.2 L169.9,402.7 L172.9,402.3 L175.9,401.8 L178.9,401.4 L181.9,400.9 L184.9,400.5 L187.9,400.1 L190.9,399.7 L193.9,399.2 L196.9,398.8 L199.9,398.4 L202.9,398.1 L205.9,397.7 L208.9,397.3 L211.9,397.0 L214.9,396.6 L217.9,396.3 L220.9,395.9 L223.9,395.6 L226.9,395.3 L229.9,395.0 L232.9,394.8 L235.9,394.5 L238.9,394.3 L241.9,394.0 L244.9,393.8 L247.9,393.6 L250.9,393.4 L253.9,393.2 L256.9,393.1 L259.9,392.9 L262.9,392.8 L265.9,392.7 L268.9,392.6 L271.9,392.6 L274.9,392.5 L277.9,392.5 L280.9,392.5 L283.9,392.5 L286.9,392.5 L289.9,392.6 L292.9,392.7 L295.9,392.8 L298.9,392.9 L301.9,393.0 L304.9,393.1 L307.9,393.3 L310.9,393.5 L313.9,393.7 L316.9,393.9 L319.9,394.1 L322.9,394.3 L325.9,394.6 L328.9,394.9 L331.9,395.2 L334.9,395.5 L337.9,395.8 L340.9,396.1 L343.9,396.4 L346.9,396.8 L349.9,397.1 L352.9,397.5 L355.9,397.9 L358.9,398.3 L361.9,398.7 L364.9,399.1 L367.9,399.5 L370.9,399.9 L373.9,400.3 L376.9,400.8 L379.9,401.2 L382.9,401.7 L385.9,402.1 L388.9,402.6 L391.9,403.1 L394.9,403.5 L397.9,404.0 L400.9,404.5 L403.9,405.0 L406.9,405.5 L409.9,406.0 L412.9,406.5 L415.9,407.0 L418.9,407.5 L421.9,408.0 L424.9,408.5 L427.9,409.0 L430.9,409.5 L433.9,410.1 L436.9,410.6 L439.9,411.1 L442.9,411.7 L445.9,412.2 L448.9,412.7 L451.9,413.3 L454.9,413.8 L457.9,414.4 L460.9,415.0 L463.9,415.5 L466.9,416.1 L469.9,416.7 L472.9,417.2 L475.9,417.8 L478.9,418.4 L481.9,419.0 L484.9,419.6 L487.9,420.2 L490.9,420.8 L493.9,421.4 L496.9,422.0 L499.9,422.6 L502.9,423.3 L505.9,423.9 L508.9,424.6 L511.9,425.3 L514.9,426.1 L517.9,426.9 L520.9,427.7 L523.9,428.6 L526.9,429.5 L529.9,430.5 L532.9,431.6 L535.9,432.7 L538.9,433.8 L541.9,435.1 L544.9,436.4 L547.9,437.8 L550.9,439.3 L553.9,440.9 L556.9,442.5 L559.9,444.2 L562.9,446.0 L565.9,447.9 L568.9,449.8 L571.9,451.8 L574.9,453.8 L577.9,455.9 L580.9,458.1 L583.9,460.4 L586.9,462.7 L589.9,465.0 L592.9,467.4 L595.9,469.8 L598.9,472.3 L601.9,474.7 L604.9,477.3 L607.9,479.8 L610.9,482.3 L613.9,484.8 L616.9,487.4 L619.9,489.9 L622.9,492.3 L625.9,494.8 L628.9,497.2 L631.9,499.5 L634.9,501.8 L637.9,504.1 L640.9,506.4 L643.9,508.6 L646.9,510.8 L649.9,513.0 L652.9,515.2 L655.9,517.3 L658.9,519.5 L661.9,521.6 L664.9,523.7 L667.9,525.9 L670.9,528.0 L673.9,530.1 L676.9,532.2 L679.9,534.4 L682.9,536.5 L685.9,538.7 L688.9,540.9 L691.9,543.1 L694.9,545.3 L697.9,547.6 L700.9,549.8 L703.9,552.0 L706.9,554.2 L709.9,556.5 L712.9,558.7 L715.9,560.9 L718.9,563.2 L721.9,565.4 L724.9,567.7 L727.9,569.9 L730.9,572.1 L733.9,574.4 L736.9,576.6 L739.9,578.8 L742.9,581.1 L745.9,583.3 L748.9,585.5 L751.9,587.7 L754.9,590.0 L757.9,592.2 L760.9,594.4 L763.9,596.6 L766.9,598.9 L769.9,601.1 L772.9,603.3 L775.9,605.5 L778.9,607.7 L781.9,609.9 L784.9,612.1 L787.9,614.3 L790.9,616.5 L793.9,618.7 L796.9,620.9 L799.9,623.0 L802.9,625.2 L805.9,627.4 L808.9,629.6 L811.9,631.7 L814.9,633.9 L817.9,636.0 L820.9,638.2 L823.9,640.3 L826.9,642.5 L829.9,644.6 L832.9,646.8 L835.9,648.9 L838.9,651.0 L841.9,653.2 L844.9,655.3 L847.9,657.5 L850.9,659.6 L853.9,661.7 L856.9,663.8 L859.9,666.0 L862.9,668.1 L865.9,670.2 L868.9,672.3 L871.9,674.5 L874.9,676.6 L877.9,678.7 L880.9,680.8 L883.9,682.9 L886.9,685.1 L889.9,687.2 L892.9,689.3 L895.9,691.4 L898.9,693.5 L901.9,695.7 L904.9,697.8 L907.9,699.9 L910.9,702.0 L913.9,704.2 L916.9,706.3 L919.9,708.4 L922.9,710.5 L925.9,712.7 L928.9,714.8 L931.9,716.9 L934.9,719.1 L937.0,720.6" fill="none" stroke="#6a5a8a" stroke-width="3" stroke-linecap="round" stroke-linejoin="round"/>
<path d="M97.9,473.8 L100.9,473.3 L103.9,472.8 L106.9,472.4 L109.9,471.9 L112.9,471.5 L115.9,471.0 L118.9,470.6 L121.9,470.1 L124.9,469.7 L127.9,469.3 L130.9,468.9 L133.9,468.4 L136.9,468.0 L139.9,467.6 L142.9,467.2 L145.9,466.8 L148.9,466.4 L151.9,466.1 L154.9,465.7 L157.9,465.3 L160.9,464.9 L163.9,464.6 L166.9,464.2 L169.9,463.9 L172.9,463.6 L175.9,463.2 L178.9,462.9 L181.9,462.6 L184.9,462.3 L187.9,462.0 L190.9,461.7 L193.9,461.4 L196.9,461.1 L199.9,460.9 L202.9,460.6 L205.9,460.4 L208.9,460.1 L211.9,459.9 L214.9,459.7 L217.9,459.4 L220.9,459.2 L223.9,459.0 L226.9,458.8 L229.9,458.7 L232.9,458.5 L235.9,458.3 L238.9,458.2 L241.9,458.0 L244.9,457.9 L247.9,457.8 L250.9,457.7 L253.9,457.6 L256.9,457.5 L259.9,457.4 L262.9,457.4 L265.9,457.3 L268.9,457.3 L271.9,457.2 L274.9,457.2 L277.9,457.2 L280.9,457.2 L283.9,457.2 L286.9,457.2 L289.9,457.3 L292.9,457.3 L295.9,457.4 L298.9,457.5 L301.9,457.5 L304.9,457.6 L307.9,457.7 L310.9,457.9 L313.9,458.0 L316.9,458.2 L319.9,458.3 L322.9,458.5 L325.9,458.7 L328.9,458.9 L331.9,459.1 L334.9,459.4 L337.9,459.6 L340.9,459.9 L343.9,460.1 L346.9,460.4 L349.9,460.7 L352.9,461.0 L355.9,461.4 L358.9,461.7 L361.9,462.1 L364.9,462.4 L367.9,462.8 L370.9,463.2 L373.9,463.6 L376.9,464.0 L379.9,464.4 L382.9,464.8 L385.9,465.3 L388.9,465.7 L391.9,466.2 L394.9,466.6 L397.9,467.1 L400.9,467.6 L403.9,468.1 L406.9,468.6 L409.9,469.1 L412.9,469.6 L415.9,470.1 L418.9,470.6 L421.9,471.1 L424.9,471.6 L427.9,472.2 L430.9,472.7 L433.9,473.2 L436.9,473.8 L439.9,474.3 L442.9,474.9 L445.9,475.4 L448.9,476.0 L451.9,476.5 L454.9,477.1 L457.9,477.6 L460.9,478.2 L463.9,478.7 L466.9,479.3 L469.9,479.9 L472.9,480.5 L475.9,481.1 L478.9,481.7 L481.9,482.3 L484.9,483.0 L487.9,483.6 L490.9,484.3 L493.9,485.0 L496.9,485.7 L499.9,486.5 L502.9,487.3 L505.9,488.1 L508.9,488.9 L511.9,489.8 L514.9,490.7 L517.9,491.7 L520.9,492.6 L523.9,493.7 L526.9,494.7 L529.9,495.8 L532.9,496.9 L535.9,498.0 L538.9,499.2 L541.9,500.4 L544.9,501.6 L547.9,502.8 L550.9,504.1 L553.9,505.4 L556.9,506.6 L559.9,507.9 L562.9,509.2 L565.9,510.6 L568.9,511.9 L571.9,513.2 L574.9,514.5 L577.9,515.8 L580.9,517.2 L583.9,518.5 L586.9,519.8 L589.9,521.1 L592.9,522.5 L595.9,523.8 L598.9,525.1 L601.9,526.5 L604.9,527.8 L607.9,529.2 L610.9,530.5 L613.9,531.9 L616.9,533.3 L619.9,534.7 L622.9,536.1 L625.9,537.5 L628.9,538.9 L631.9,540.3 L634.9,541.8 L637.9,543.2 L640.9,544.7 L643.9,546.2 L646.9,547.7 L649.9,549.2 L652.9,550.7 L655.9,552.3 L658.9,553.8 L661.9,555.4 L664.9,557.0 L667.9,558.5 L670.9,560.1 L673.9,561.7 L676.9,563.3 L679.9,564.9 L682.9,566.5 L685.9,568.0 L688.9,569.6 L691.9,571.2 L694.9,572.7 L697.9,574.3 L700.9,575.8 L703.9,577.4 L706.9,578.9 L709.9,580.4 L712.9,582.0 L715.9,583.5 L718.9,585.0 L721.9,586.5 L724.9,588.1 L727.9,589.6 L730.9,591.1 L733.9,592.7 L736.9,594.2 L739.9,595.7 L742.9,597.3 L745.9,598.8 L748.9,600.4 L751.9,601.9 L754.9,603.5 L757.9,605.1 L760.9,606.7 L763.9,608.2 L766.9,609.9 L769.9,611.5 L772.9,613.1 L775.9,614.7 L778.9,616.4 L781.9,618.1 L784.9,619.8 L787.9,621.5 L790.9,623.2 L793.9,624.9 L796.9,626.7 L799.9,628.4 L802.9,630.2 L805.9,632.1 L808.9,633.9 L811.9,635.7 L814.9,637.6 L817.9,639.5 L820.9,641.4 L823.9,643.4 L826.9,645.3 L829.9,647.3 L832.9,649.3 L835.9,651.3 L838.9,653.3 L841.9,655.4 L844.9,657.4 L847.9,659.5 L850.9,661.5 L853.9,663.6 L856.9,665.7 L859.9,667.8 L862.9,669.9 L865.9,672.0 L868.9,674.1 L871.9,676.2 L874.9,678.3 L877.9,680.4 L880.9,682.5 L883.9,684.6 L886.9,686.8 L889.9,688.9 L892.9,691.0 L895.9,693.1 L898.9,695.2 L901.9,697.3 L904.9,699.4 L907.9,701.4 L910.9,703.5 L913.9,705.6 L916.9,707.6 L919.9,709.6 L922.9,711.7 L925.9,713.7 L928.9,715.7 L931.9,717.7 L934.9,719.6 L936.0,720.3" fill="none" stroke="#3a8394" stroke-opacity="0.22" stroke-width="5.6" stroke-linecap="round" stroke-linejoin="round"/><path d="M97.9,473.8 L100.9,473.3 L103.9,472.8 L106.9,472.4 L109.9,471.9 L112.9,471.5 L115.9,471.0 L118.9,470.6 L121.9,470.1 L124.9,469.7 L127.9,469.3 L130.9,468.9 L133.9,468.4 L136.9,468.0 L139.9,467.6 L142.9,467.2 L145.9,466.8 L148.9,466.4 L151.9,466.1 L154.9,465.7 L157.9,465.3 L160.9,464.9 L163.9,464.6 L166.9,464.2 L169.9,463.9 L172.9,463.6 L175.9,463.2 L178.9,462.9 L181.9,462.6 L184.9,462.3 L187.9,462.0 L190.9,461.7 L193.9,461.4 L196.9,461.1 L199.9,460.9 L202.9,460.6 L205.9,460.4 L208.9,460.1 L211.9,459.9 L214.9,459.7 L217.9,459.4 L220.9,459.2 L223.9,459.0 L226.9,458.8 L229.9,458.7 L232.9,458.5 L235.9,458.3 L238.9,458.2 L241.9,458.0 L244.9,457.9 L247.9,457.8 L250.9,457.7 L253.9,457.6 L256.9,457.5 L259.9,457.4 L262.9,457.4 L265.9,457.3 L268.9,457.3 L271.9,457.2 L274.9,457.2 L277.9,457.2 L280.9,457.2 L283.9,457.2 L286.9,457.2 L289.9,457.3 L292.9,457.3 L295.9,457.4 L298.9,457.5 L301.9,457.5 L304.9,457.6 L307.9,457.7 L310.9,457.9 L313.9,458.0 L316.9,458.2 L319.9,458.3 L322.9,458.5 L325.9,458.7 L328.9,458.9 L331.9,459.1 L334.9,459.4 L337.9,459.6 L340.9,459.9 L343.9,460.1 L346.9,460.4 L349.9,460.7 L352.9,461.0 L355.9,461.4 L358.9,461.7 L361.9,462.1 L364.9,462.4 L367.9,462.8 L370.9,463.2 L373.9,463.6 L376.9,464.0 L379.9,464.4 L382.9,464.8 L385.9,465.3 L388.9,465.7 L391.9,466.2 L394.9,466.6 L397.9,467.1 L400.9,467.6 L403.9,468.1 L406.9,468.6 L409.9,469.1 L412.9,469.6 L415.9,470.1 L418.9,470.6 L421.9,471.1 L424.9,471.6 L427.9,472.2 L430.9,472.7 L433.9,473.2 L436.9,473.8 L439.9,474.3 L442.9,474.9 L445.9,475.4 L448.9,476.0 L451.9,476.5 L454.9,477.1 L457.9,477.6 L460.9,478.2 L463.9,478.7 L466.9,479.3 L469.9,479.9 L472.9,480.5 L475.9,481.1 L478.9,481.7 L481.9,482.3 L484.9,483.0 L487.9,483.6 L490.9,484.3 L493.9,485.0 L496.9,485.7 L499.9,486.5 L502.9,487.3 L505.9,488.1 L508.9,488.9 L511.9,489.8 L514.9,490.7 L517.9,491.7 L520.9,492.6 L523.9,493.7 L526.9,494.7 L529.9,495.8 L532.9,496.9 L535.9,498.0 L538.9,499.2 L541.9,500.4 L544.9,501.6 L547.9,502.8 L550.9,504.1 L553.9,505.4 L556.9,506.6 L559.9,507.9 L562.9,509.2 L565.9,510.6 L568.9,511.9 L571.9,513.2 L574.9,514.5 L577.9,515.8 L580.9,517.2 L583.9,518.5 L586.9,519.8 L589.9,521.1 L592.9,522.5 L595.9,523.8 L598.9,525.1 L601.9,526.5 L604.9,527.8 L607.9,529.2 L610.9,530.5 L613.9,531.9 L616.9,533.3 L619.9,534.7 L622.9,536.1 L625.9,537.5 L628.9,538.9 L631.9,540.3 L634.9,541.8 L637.9,543.2 L640.9,544.7 L643.9,546.2 L646.9,547.7 L649.9,549.2 L652.9,550.7 L655.9,552.3 L658.9,553.8 L661.9,555.4 L664.9,557.0 L667.9,558.5 L670.9,560.1 L673.9,561.7 L676.9,563.3 L679.9,564.9 L682.9,566.5 L685.9,568.0 L688.9,569.6 L691.9,571.2 L694.9,572.7 L697.9,574.3 L700.9,575.8 L703.9,577.4 L706.9,578.9 L709.9,580.4 L712.9,582.0 L715.9,583.5 L718.9,585.0 L721.9,586.5 L724.9,588.1 L727.9,589.6 L730.9,591.1 L733.9,592.7 L736.9,594.2 L739.9,595.7 L742.9,597.3 L745.9,598.8 L748.9,600.4 L751.9,601.9 L754.9,603.5 L757.9,605.1 L760.9,606.7 L763.9,608.2 L766.9,609.9 L769.9,611.5 L772.9,613.1 L775.9,614.7 L778.9,616.4 L781.9,618.1 L784.9,619.8 L787.9,621.5 L790.9,623.2 L793.9,624.9 L796.9,626.7 L799.9,628.4 L802.9,630.2 L805.9,632.1 L808.9,633.9 L811.9,635.7 L814.9,637.6 L817.9,639.5 L820.9,641.4 L823.9,643.4 L826.9,645.3 L829.9,647.3 L832.9,649.3 L835.9,651.3 L838.9,653.3 L841.9,655.4 L844.9,657.4 L847.9,659.5 L850.9,661.5 L853.9,663.6 L856.9,665.7 L859.9,667.8 L862.9,669.9 L865.9,672.0 L868.9,674.1 L871.9,676.2 L874.9,678.3 L877.9,680.4 L880.9,682.5 L883.9,684.6 L886.9,686.8 L889.9,688.9 L892.9,691.0 L895.9,693.1 L898.9,695.2 L901.9,697.3 L904.9,699.4 L907.9,701.4 L910.9,703.5 L913.9,705.6 L916.9,707.6 L919.9,709.6 L922.9,711.7 L925.9,713.7 L928.9,715.7 L931.9,717.7 L934.9,719.6 L936.0,720.3" fill="none" stroke="#3a8394" stroke-width="3" stroke-linecap="round" stroke-linejoin="round"/>
<path d="M97.9,531.3 L100.9,530.7 L103.9,530.2 L106.9,529.7 L109.9,529.2 L112.9,528.7 L115.9,528.2 L118.9,527.7 L121.9,527.3 L124.9,526.8 L127.9,526.4 L130.9,526.0 L133.9,525.6 L136.9,525.2 L139.9,524.8 L142.9,524.4 L145.9,524.0 L148.9,523.7 L151.9,523.3 L154.9,523.0 L157.9,522.7 L160.9,522.4 L163.9,522.1 L166.9,521.8 L169.9,521.5 L172.9,521.2 L175.9,521.0 L178.9,520.7 L181.9,520.5 L184.9,520.3 L187.9,520.1 L190.9,519.9 L193.9,519.7 L196.9,519.5 L199.9,519.3 L202.9,519.2 L205.9,519.0 L208.9,518.9 L211.9,518.8 L214.9,518.7 L217.9,518.6 L220.9,518.5 L223.9,518.4 L226.9,518.4 L229.9,518.3 L232.9,518.3 L235.9,518.2 L238.9,518.2 L241.9,518.2 L244.9,518.2 L247.9,518.2 L250.9,518.2 L253.9,518.3 L256.9,518.3 L259.9,518.4 L262.9,518.4 L265.9,518.5 L268.9,518.6 L271.9,518.7 L274.9,518.8 L277.9,518.9 L280.9,519.0 L283.9,519.2 L286.9,519.3 L289.9,519.5 L292.9,519.7 L295.9,519.9 L298.9,520.1 L301.9,520.3 L304.9,520.5 L307.9,520.7 L310.9,520.9 L313.9,521.2 L316.9,521.5 L319.9,521.7 L322.9,522.0 L325.9,522.3 L328.9,522.6 L331.9,522.9 L334.9,523.2 L337.9,523.6 L340.9,523.9 L343.9,524.3 L346.9,524.7 L349.9,525.0 L352.9,525.4 L355.9,525.8 L358.9,526.2 L361.9,526.7 L364.9,527.1 L367.9,527.5 L370.9,528.0 L373.9,528.4 L376.9,528.9 L379.9,529.4 L382.9,529.9 L385.9,530.4 L388.9,530.9 L391.9,531.5 L394.9,532.0 L397.9,532.5 L400.9,533.1 L403.9,533.7 L406.9,534.3 L409.9,534.8 L412.9,535.4 L415.9,536.1 L418.9,536.7 L421.9,537.3 L424.9,538.0 L427.9,538.6 L430.9,539.3 L433.9,539.9 L436.9,540.6 L439.9,541.3 L442.9,542.0 L445.9,542.7 L448.9,543.5 L451.9,544.2 L454.9,545.0 L457.9,545.7 L460.9,546.5 L463.9,547.3 L466.9,548.1 L469.9,548.9 L472.9,549.7 L475.9,550.5 L478.9,551.3 L481.9,552.2 L484.9,553.0 L487.9,553.9 L490.9,554.7 L493.9,555.6 L496.9,556.5 L499.9,557.4 L502.9,558.3 L505.9,559.3 L508.9,560.2 L511.9,561.1 L514.9,562.1 L517.9,563.0 L520.9,564.0 L523.9,565.0 L526.9,566.0 L529.9,567.0 L532.9,568.0 L535.9,569.0 L538.9,570.1 L541.9,571.1 L544.9,572.2 L547.9,573.2 L550.9,574.3 L553.9,575.4 L556.9,576.5 L559.9,577.6 L562.9,578.7 L565.9,579.9 L568.9,581.0 L571.9,582.1 L574.9,583.3 L577.9,584.5 L580.9,585.6 L583.9,586.8 L586.9,588.0 L589.9,589.2 L592.9,590.5 L595.9,591.7 L598.9,592.9 L601.9,594.2 L604.9,595.4 L607.9,596.7 L610.9,598.0 L613.9,599.3 L616.9,600.5 L619.9,601.9 L622.9,603.2 L625.9,604.5 L628.9,605.8 L631.9,607.2 L634.9,608.5 L637.9,609.9 L640.9,611.3 L643.9,612.7 L646.9,614.1 L649.9,615.5 L652.9,616.9 L655.9,618.3 L658.9,619.7 L661.9,621.2 L664.9,622.6 L667.9,624.1 L670.9,625.6 L673.9,627.1 L676.9,628.6 L679.9,630.1 L682.9,631.6 L685.9,633.1 L688.9,634.6 L691.9,636.2 L694.9,637.7 L697.9,639.3 L700.9,640.9 L703.9,642.5 L706.9,644.0 L709.9,645.6 L712.9,647.3 L715.9,648.9 L718.9,650.5 L721.9,652.2 L724.9,653.8 L727.9,655.5 L730.9,657.1 L733.9,658.8 L736.9,660.5 L739.9,662.2 L742.9,663.9 L745.9,665.6 L748.9,667.3 L751.9,669.1 L754.9,670.8 L757.9,672.6 L760.9,674.4 L763.9,676.1 L766.9,677.9 L769.9,679.7 L772.9,681.5 L775.9,683.3 L778.9,685.1 L781.9,687.0 L784.9,688.8 L787.9,690.7 L790.9,692.5 L793.9,694.4 L796.9,696.3 L799.9,698.2 L802.9,700.1 L805.9,702.0 L808.9,703.9 L811.9,705.8 L814.9,707.8 L817.9,709.7 L820.9,711.7 L823.9,713.6 L826.9,715.6 L829.9,717.6 L832.9,719.6 L835.9,721.6 L838.9,723.6 L841.9,725.6 L844.9,727.6 L847.9,729.7 L850.9,731.7 L853.9,733.8 L855.0,734.5" fill="none" stroke="#d27f3c" stroke-opacity="0.22" stroke-width="5.4" stroke-linecap="round" stroke-linejoin="round"/><path d="M97.9,531.3 L100.9,530.7 L103.9,530.2 L106.9,529.7 L109.9,529.2 L112.9,528.7 L115.9,528.2 L118.9,527.7 L121.9,527.3 L124.9,526.8 L127.9,526.4 L130.9,526.0 L133.9,525.6 L136.9,525.2 L139.9,524.8 L142.9,524.4 L145.9,524.0 L148.9,523.7 L151.9,523.3 L154.9,523.0 L157.9,522.7 L160.9,522.4 L163.9,522.1 L166.9,521.8 L169.9,521.5 L172.9,521.2 L175.9,521.0 L178.9,520.7 L181.9,520.5 L184.9,520.3 L187.9,520.1 L190.9,519.9 L193.9,519.7 L196.9,519.5 L199.9,519.3 L202.9,519.2 L205.9,519.0 L208.9,518.9 L211.9,518.8 L214.9,518.7 L217.9,518.6 L220.9,518.5 L223.9,518.4 L226.9,518.4 L229.9,518.3 L232.9,518.3 L235.9,518.2 L238.9,518.2 L241.9,518.2 L244.9,518.2 L247.9,518.2 L250.9,518.2 L253.9,518.3 L256.9,518.3 L259.9,518.4 L262.9,518.4 L265.9,518.5 L268.9,518.6 L271.9,518.7 L274.9,518.8 L277.9,518.9 L280.9,519.0 L283.9,519.2 L286.9,519.3 L289.9,519.5 L292.9,519.7 L295.9,519.9 L298.9,520.1 L301.9,520.3 L304.9,520.5 L307.9,520.7 L310.9,520.9 L313.9,521.2 L316.9,521.5 L319.9,521.7 L322.9,522.0 L325.9,522.3 L328.9,522.6 L331.9,522.9 L334.9,523.2 L337.9,523.6 L340.9,523.9 L343.9,524.3 L346.9,524.7 L349.9,525.0 L352.9,525.4 L355.9,525.8 L358.9,526.2 L361.9,526.7 L364.9,527.1 L367.9,527.5 L370.9,528.0 L373.9,528.4 L376.9,528.9 L379.9,529.4 L382.9,529.9 L385.9,530.4 L388.9,530.9 L391.9,531.5 L394.9,532.0 L397.9,532.5 L400.9,533.1 L403.9,533.7 L406.9,534.3 L409.9,534.8 L412.9,535.4 L415.9,536.1 L418.9,536.7 L421.9,537.3 L424.9,538.0 L427.9,538.6 L430.9,539.3 L433.9,539.9 L436.9,540.6 L439.9,541.3 L442.9,542.0 L445.9,542.7 L448.9,543.5 L451.9,544.2 L454.9,545.0 L457.9,545.7 L460.9,546.5 L463.9,547.3 L466.9,548.1 L469.9,548.9 L472.9,549.7 L475.9,550.5 L478.9,551.3 L481.9,552.2 L484.9,553.0 L487.9,553.9 L490.9,554.7 L493.9,555.6 L496.9,556.5 L499.9,557.4 L502.9,558.3 L505.9,559.3 L508.9,560.2 L511.9,561.1 L514.9,562.1 L517.9,563.0 L520.9,564.0 L523.9,565.0 L526.9,566.0 L529.9,567.0 L532.9,568.0 L535.9,569.0 L538.9,570.1 L541.9,571.1 L544.9,572.2 L547.9,573.2 L550.9,574.3 L553.9,575.4 L556.9,576.5 L559.9,577.6 L562.9,578.7 L565.9,579.9 L568.9,581.0 L571.9,582.1 L574.9,583.3 L577.9,584.5 L580.9,585.6 L583.9,586.8 L586.9,588.0 L589.9,589.2 L592.9,590.5 L595.9,591.7 L598.9,592.9 L601.9,594.2 L604.9,595.4 L607.9,596.7 L610.9,598.0 L613.9,599.3 L616.9,600.5 L619.9,601.9 L622.9,603.2 L625.9,604.5 L628.9,605.8 L631.9,607.2 L634.9,608.5 L637.9,609.9 L640.9,611.3 L643.9,612.7 L646.9,614.1 L649.9,615.5 L652.9,616.9 L655.9,618.3 L658.9,619.7 L661.9,621.2 L664.9,622.6 L667.9,624.1 L670.9,625.6 L673.9,627.1 L676.9,628.6 L679.9,630.1 L682.9,631.6 L685.9,633.1 L688.9,634.6 L691.9,636.2 L694.9,637.7 L697.9,639.3 L700.9,640.9 L703.9,642.5 L706.9,644.0 L709.9,645.6 L712.9,647.3 L715.9,648.9 L718.9,650.5 L721.9,652.2 L724.9,653.8 L727.9,655.5 L730.9,657.1 L733.9,658.8 L736.9,660.5 L739.9,662.2 L742.9,663.9 L745.9,665.6 L748.9,667.3 L751.9,669.1 L754.9,670.8 L757.9,672.6 L760.9,674.4 L763.9,676.1 L766.9,677.9 L769.9,679.7 L772.9,681.5 L775.9,683.3 L778.9,685.1 L781.9,687.0 L784.9,688.8 L787.9,690.7 L790.9,692.5 L793.9,694.4 L796.9,696.3 L799.9,698.2 L802.9,700.1 L805.9,702.0 L808.9,703.9 L811.9,705.8 L814.9,707.8 L817.9,709.7 L820.9,711.7 L823.9,713.6 L826.9,715.6 L829.9,717.6 L832.9,719.6 L835.9,721.6 L838.9,723.6 L841.9,725.6 L844.9,727.6 L847.9,729.7 L850.9,731.7 L853.9,733.8 L855.0,734.5" fill="none" stroke="#d27f3c" stroke-width="2.8" stroke-linecap="round" stroke-linejoin="round"/>
<path d="M97.9,581.5 L100.9,581.0 L103.9,580.5 L106.9,580.0 L109.9,579.5 L112.9,579.1 L115.9,578.6 L118.9,578.2 L121.9,577.7 L124.9,577.3 L127.9,576.9 L130.9,576.5 L133.9,576.2 L136.9,575.8 L139.9,575.4 L142.9,575.1 L145.9,574.8 L148.9,574.4 L151.9,574.1 L154.9,573.8 L157.9,573.6 L160.9,573.3 L163.9,573.0 L166.9,572.8 L169.9,572.5 L172.9,572.3 L175.9,572.1 L178.9,571.9 L181.9,571.7 L184.9,571.5 L187.9,571.4 L190.9,571.2 L193.9,571.1 L196.9,571.0 L199.9,570.8 L202.9,570.7 L205.9,570.6 L208.9,570.6 L211.9,570.5 L214.9,570.4 L217.9,570.4 L220.9,570.4 L223.9,570.3 L226.9,570.3 L229.9,570.3 L232.9,570.3 L235.9,570.4 L238.9,570.4 L241.9,570.4 L244.9,570.5 L247.9,570.6 L250.9,570.6 L253.9,570.7 L256.9,570.8 L259.9,571.0 L262.9,571.1 L265.9,571.2 L268.9,571.4 L271.9,571.5 L274.9,571.7 L277.9,571.9 L280.9,572.1 L283.9,572.3 L286.9,572.5 L289.9,572.7 L292.9,573.0 L295.9,573.2 L298.9,573.5 L301.9,573.7 L304.9,574.0 L307.9,574.3 L310.9,574.6 L313.9,574.9 L316.9,575.3 L319.9,575.6 L322.9,575.9 L325.9,576.3 L328.9,576.7 L331.9,577.0 L334.9,577.4 L337.9,577.8 L340.9,578.2 L343.9,578.7 L346.9,579.1 L349.9,579.6 L352.9,580.0 L355.9,580.5 L358.9,580.9 L361.9,581.4 L364.9,581.9 L367.9,582.4 L370.9,583.0 L373.9,583.5 L376.9,584.0 L379.9,584.6 L382.9,585.1 L385.9,585.7 L388.9,586.3 L391.9,586.9 L394.9,587.5 L397.9,588.1 L400.9,588.7 L403.9,589.4 L406.9,590.0 L409.9,590.7 L412.9,591.3 L415.9,592.0 L418.9,592.7 L421.9,593.4 L424.9,594.1 L427.9,594.8 L430.9,595.5 L433.9,596.3 L436.9,597.0 L439.9,597.8 L442.9,598.5 L445.9,599.3 L448.9,600.1 L451.9,600.9 L454.9,601.7 L457.9,602.5 L460.9,603.3 L463.9,604.2 L466.9,605.0 L469.9,605.9 L472.9,606.7 L475.9,607.6 L478.9,608.5 L481.9,609.4 L484.9,610.3 L487.9,611.2 L490.9,612.1 L493.9,613.1 L496.9,614.0 L499.9,615.0 L502.9,615.9 L505.9,616.9 L508.9,617.9 L511.9,618.9 L514.9,619.9 L517.9,620.9 L520.9,621.9 L523.9,622.9 L526.9,624.0 L529.9,625.0 L532.9,626.1 L535.9,627.1 L538.9,628.2 L541.9,629.3 L544.9,630.4 L547.9,631.5 L550.9,632.6 L553.9,633.7 L556.9,634.8 L559.9,636.0 L562.9,637.1 L565.9,638.3 L568.9,639.5 L571.9,640.6 L574.9,641.8 L577.9,643.0 L580.9,644.2 L583.9,645.4 L586.9,646.7 L589.9,647.9 L592.9,649.1 L595.9,650.4 L598.9,651.6 L601.9,652.9 L604.9,654.2 L607.9,655.5 L610.9,656.8 L613.9,658.1 L616.9,659.4 L619.9,660.7 L622.9,662.0 L625.9,663.4 L628.9,664.7 L631.9,666.1 L634.9,667.4 L637.9,668.8 L640.9,670.2 L643.9,671.6 L646.9,673.0 L649.9,674.4 L652.9,675.8 L655.9,677.2 L658.9,678.6 L661.9,680.1 L664.9,681.5 L667.9,683.0 L670.9,684.4 L673.9,685.9 L676.9,687.4 L679.9,688.9 L682.9,690.4 L685.9,691.9 L688.9,693.4 L691.9,694.9 L694.9,696.5 L697.9,698.0 L700.9,699.6 L703.9,701.1 L706.9,702.7 L709.9,704.3 L712.9,705.8 L715.9,707.4 L718.9,709.0 L721.9,710.6 L724.9,712.2 L727.9,713.9 L730.9,715.5 L733.9,717.1 L736.9,718.8 L739.9,720.4 L742.9,722.1 L745.9,723.8 L748.9,725.4 L751.9,727.1 L754.9,728.8 L757.9,730.5 L760.9,732.2 L763.9,733.9 L766.9,735.7 L769.9,737.4 L772.9,739.1 L775.9,740.9 L778.9,742.6 L781.9,744.4 L782.0,744.4" fill="none" stroke="#8e9cc6" stroke-opacity="0.22" stroke-width="5.4" stroke-linecap="round" stroke-linejoin="round"/><path d="M97.9,581.5 L100.9,581.0 L103.9,580.5 L106.9,580.0 L109.9,579.5 L112.9,579.1 L115.9,578.6 L118.9,578.2 L121.9,577.7 L124.9,577.3 L127.9,576.9 L130.9,576.5 L133.9,576.2 L136.9,575.8 L139.9,575.4 L142.9,575.1 L145.9,574.8 L148.9,574.4 L151.9,574.1 L154.9,573.8 L157.9,573.6 L160.9,573.3 L163.9,573.0 L166.9,572.8 L169.9,572.5 L172.9,572.3 L175.9,572.1 L178.9,571.9 L181.9,571.7 L184.9,571.5 L187.9,571.4 L190.9,571.2 L193.9,571.1 L196.9,571.0 L199.9,570.8 L202.9,570.7 L205.9,570.6 L208.9,570.6 L211.9,570.5 L214.9,570.4 L217.9,570.4 L220.9,570.4 L223.9,570.3 L226.9,570.3 L229.9,570.3 L232.9,570.3 L235.9,570.4 L238.9,570.4 L241.9,570.4 L244.9,570.5 L247.9,570.6 L250.9,570.6 L253.9,570.7 L256.9,570.8 L259.9,571.0 L262.9,571.1 L265.9,571.2 L268.9,571.4 L271.9,571.5 L274.9,571.7 L277.9,571.9 L280.9,572.1 L283.9,572.3 L286.9,572.5 L289.9,572.7 L292.9,573.0 L295.9,573.2 L298.9,573.5 L301.9,573.7 L304.9,574.0 L307.9,574.3 L310.9,574.6 L313.9,574.9 L316.9,575.3 L319.9,575.6 L322.9,575.9 L325.9,576.3 L328.9,576.7 L331.9,577.0 L334.9,577.4 L337.9,577.8 L340.9,578.2 L343.9,578.7 L346.9,579.1 L349.9,579.6 L352.9,580.0 L355.9,580.5 L358.9,580.9 L361.9,581.4 L364.9,581.9 L367.9,582.4 L370.9,583.0 L373.9,583.5 L376.9,584.0 L379.9,584.6 L382.9,585.1 L385.9,585.7 L388.9,586.3 L391.9,586.9 L394.9,587.5 L397.9,588.1 L400.9,588.7 L403.9,589.4 L406.9,590.0 L409.9,590.7 L412.9,591.3 L415.9,592.0 L418.9,592.7 L421.9,593.4 L424.9,594.1 L427.9,594.8 L430.9,595.5 L433.9,596.3 L436.9,597.0 L439.9,597.8 L442.9,598.5 L445.9,599.3 L448.9,600.1 L451.9,600.9 L454.9,601.7 L457.9,602.5 L460.9,603.3 L463.9,604.2 L466.9,605.0 L469.9,605.9 L472.9,606.7 L475.9,607.6 L478.9,608.5 L481.9,609.4 L484.9,610.3 L487.9,611.2 L490.9,612.1 L493.9,613.1 L496.9,614.0 L499.9,615.0 L502.9,615.9 L505.9,616.9 L508.9,617.9 L511.9,618.9 L514.9,619.9 L517.9,620.9 L520.9,621.9 L523.9,622.9 L526.9,624.0 L529.9,625.0 L532.9,626.1 L535.9,627.1 L538.9,628.2 L541.9,629.3 L544.9,630.4 L547.9,631.5 L550.9,632.6 L553.9,633.7 L556.9,634.8 L559.9,636.0 L562.9,637.1 L565.9,638.3 L568.9,639.5 L571.9,640.6 L574.9,641.8 L577.9,643.0 L580.9,644.2 L583.9,645.4 L586.9,646.7 L589.9,647.9 L592.9,649.1 L595.9,650.4 L598.9,651.6 L601.9,652.9 L604.9,654.2 L607.9,655.5 L610.9,656.8 L613.9,658.1 L616.9,659.4 L619.9,660.7 L622.9,662.0 L625.9,663.4 L628.9,664.7 L631.9,666.1 L634.9,667.4 L637.9,668.8 L640.9,670.2 L643.9,671.6 L646.9,673.0 L649.9,674.4 L652.9,675.8 L655.9,677.2 L658.9,678.6 L661.9,680.1 L664.9,681.5 L667.9,683.0 L670.9,684.4 L673.9,685.9 L676.9,687.4 L679.9,688.9 L682.9,690.4 L685.9,691.9 L688.9,693.4 L691.9,694.9 L694.9,696.5 L697.9,698.0 L700.9,699.6 L703.9,701.1 L706.9,702.7 L709.9,704.3 L712.9,705.8 L715.9,707.4 L718.9,709.0 L721.9,710.6 L724.9,712.2 L727.9,713.9 L730.9,715.5 L733.9,717.1 L736.9,718.8 L739.9,720.4 L742.9,722.1 L745.9,723.8 L748.9,725.4 L751.9,727.1 L754.9,728.8 L757.9,730.5 L760.9,732.2 L763.9,733.9 L766.9,735.7 L769.9,737.4 L772.9,739.1 L775.9,740.9 L778.9,742.6 L781.9,744.4 L782.0,744.4" fill="none" stroke="#8e9cc6" stroke-width="2.8" stroke-linecap="round" stroke-linejoin="round"/>
<path d="M97.9,630.0 L100.9,629.5 L103.9,629.1 L106.9,628.6 L109.9,628.1 L112.9,627.7 L115.9,627.2 L118.9,626.8 L121.9,626.4 L124.9,626.0 L127.9,625.6 L130.9,625.3 L133.9,624.9 L136.9,624.6 L139.9,624.2 L142.9,623.9 L145.9,623.6 L148.9,623.3 L151.9,623.0 L154.9,622.8 L157.9,622.5 L160.9,622.3 L163.9,622.1 L166.9,621.8 L169.9,621.6 L172.9,621.5 L175.9,621.3 L178.9,621.1 L181.9,621.0 L184.9,620.8 L187.9,620.7 L190.9,620.6 L193.9,620.5 L196.9,620.4 L199.9,620.3 L202.9,620.2 L205.9,620.2 L208.9,620.1 L211.9,620.1 L214.9,620.1 L217.9,620.1 L220.9,620.1 L223.9,620.1 L226.9,620.1 L229.9,620.2 L232.9,620.2 L235.9,620.3 L238.9,620.4 L241.9,620.5 L244.9,620.6 L247.9,620.7 L250.9,620.8 L253.9,621.0 L256.9,621.1 L259.9,621.3 L262.9,621.4 L265.9,621.6 L268.9,621.8 L271.9,622.0 L274.9,622.2 L277.9,622.5 L280.9,622.7 L283.9,623.0 L286.9,623.2 L289.9,623.5 L292.9,623.8 L295.9,624.1 L298.9,624.4 L301.9,624.7 L304.9,625.1 L307.9,625.4 L310.9,625.8 L313.9,626.2 L316.9,626.5 L319.9,626.9 L322.9,627.3 L325.9,627.7 L328.9,628.2 L331.9,628.6 L334.9,629.0 L337.9,629.5 L340.9,630.0 L343.9,630.4 L346.9,630.9 L349.9,631.4 L352.9,632.0 L355.9,632.5 L358.9,633.0 L361.9,633.6 L364.9,634.1 L367.9,634.7 L370.9,635.3 L373.9,635.8 L376.9,636.4 L379.9,637.0 L382.9,637.7 L385.9,638.3 L388.9,638.9 L391.9,639.6 L394.9,640.3 L397.9,640.9 L400.9,641.6 L403.9,642.3 L406.9,643.0 L409.9,643.7 L412.9,644.4 L415.9,645.2 L418.9,645.9 L421.9,646.7 L424.9,647.4 L427.9,648.2 L430.9,649.0 L433.9,649.8 L436.9,650.6 L439.9,651.4 L442.9,652.3 L445.9,653.1 L448.9,653.9 L451.9,654.8 L454.9,655.7 L457.9,656.5 L460.9,657.4 L463.9,658.3 L466.9,659.2 L469.9,660.1 L472.9,661.1 L475.9,662.0 L478.9,662.9 L481.9,663.9 L484.9,664.9 L487.9,665.8 L490.9,666.8 L493.9,667.8 L496.9,668.8 L499.9,669.8 L502.9,670.9 L505.9,671.9 L508.9,672.9 L511.9,674.0 L514.9,675.0 L517.9,676.1 L520.9,677.2 L523.9,678.3 L526.9,679.4 L529.9,680.5 L532.9,681.6 L535.9,682.7 L538.9,683.9 L541.9,685.0 L544.9,686.1 L547.9,687.3 L550.9,688.5 L553.9,689.7 L556.9,690.8 L559.9,692.0 L562.9,693.3 L565.9,694.5 L568.9,695.7 L571.9,696.9 L574.9,698.2 L577.9,699.4 L580.9,700.7 L583.9,701.9 L586.9,703.2 L589.9,704.5 L592.9,705.8 L595.9,707.1 L598.9,708.4 L601.9,709.7 L604.9,711.1 L607.9,712.4 L610.9,713.8 L613.9,715.1 L616.9,716.5 L619.9,717.8 L622.9,719.2 L625.9,720.6 L628.9,722.0 L631.9,723.4 L634.9,724.8 L637.9,726.3 L640.9,727.7 L643.9,729.1 L646.9,730.6 L649.9,732.0 L652.9,733.5 L655.9,735.0 L658.9,736.4 L661.9,737.9 L664.9,739.4 L667.9,740.9 L670.9,742.4 L673.9,744.0 L676.9,745.5 L679.9,747.0 L682.9,748.6 L685.9,750.1 L688.9,751.7 L691.9,753.2 L694.9,754.8 L697.9,756.4" fill="none" stroke="#c68a94" stroke-opacity="0.22" stroke-width="5.4" stroke-linecap="round" stroke-linejoin="round"/><path d="M97.9,630.0 L100.9,629.5 L103.9,629.1 L106.9,628.6 L109.9,628.1 L112.9,627.7 L115.9,627.2 L118.9,626.8 L121.9,626.4 L124.9,626.0 L127.9,625.6 L130.9,625.3 L133.9,624.9 L136.9,624.6 L139.9,624.2 L142.9,623.9 L145.9,623.6 L148.9,623.3 L151.9,623.0 L154.9,622.8 L157.9,622.5 L160.9,622.3 L163.9,622.1 L166.9,621.8 L169.9,621.6 L172.9,621.5 L175.9,621.3 L178.9,621.1 L181.9,621.0 L184.9,620.8 L187.9,620.7 L190.9,620.6 L193.9,620.5 L196.9,620.4 L199.9,620.3 L202.9,620.2 L205.9,620.2 L208.9,620.1 L211.9,620.1 L214.9,620.1 L217.9,620.1 L220.9,620.1 L223.9,620.1 L226.9,620.1 L229.9,620.2 L232.9,620.2 L235.9,620.3 L238.9,620.4 L241.9,620.5 L244.9,620.6 L247.9,620.7 L250.9,620.8 L253.9,621.0 L256.9,621.1 L259.9,621.3 L262.9,621.4 L265.9,621.6 L268.9,621.8 L271.9,622.0 L274.9,622.2 L277.9,622.5 L280.9,622.7 L283.9,623.0 L286.9,623.2 L289.9,623.5 L292.9,623.8 L295.9,624.1 L298.9,624.4 L301.9,624.7 L304.9,625.1 L307.9,625.4 L310.9,625.8 L313.9,626.2 L316.9,626.5 L319.9,626.9 L322.9,627.3 L325.9,627.7 L328.9,628.2 L331.9,628.6 L334.9,629.0 L337.9,629.5 L340.9,630.0 L343.9,630.4 L346.9,630.9 L349.9,631.4 L352.9,632.0 L355.9,632.5 L358.9,633.0 L361.9,633.6 L364.9,634.1 L367.9,634.7 L370.9,635.3 L373.9,635.8 L376.9,636.4 L379.9,637.0 L382.9,637.7 L385.9,638.3 L388.9,638.9 L391.9,639.6 L394.9,640.3 L397.9,640.9 L400.9,641.6 L403.9,642.3 L406.9,643.0 L409.9,643.7 L412.9,644.4 L415.9,645.2 L418.9,645.9 L421.9,646.7 L424.9,647.4 L427.9,648.2 L430.9,649.0 L433.9,649.8 L436.9,650.6 L439.9,651.4 L442.9,652.3 L445.9,653.1 L448.9,653.9 L451.9,654.8 L454.9,655.7 L457.9,656.5 L460.9,657.4 L463.9,658.3 L466.9,659.2 L469.9,660.1 L472.9,661.1 L475.9,662.0 L478.9,662.9 L481.9,663.9 L484.9,664.9 L487.9,665.8 L490.9,666.8 L493.9,667.8 L496.9,668.8 L499.9,669.8 L502.9,670.9 L505.9,671.9 L508.9,672.9 L511.9,674.0 L514.9,675.0 L517.9,676.1 L520.9,677.2 L523.9,678.3 L526.9,679.4 L529.9,680.5 L532.9,681.6 L535.9,682.7 L538.9,683.9 L541.9,685.0 L544.9,686.1 L547.9,687.3 L550.9,688.5 L553.9,689.7 L556.9,690.8 L559.9,692.0 L562.9,693.3 L565.9,694.5 L568.9,695.7 L571.9,696.9 L574.9,698.2 L577.9,699.4 L580.9,700.7 L583.9,701.9 L586.9,703.2 L589.9,704.5 L592.9,705.8 L595.9,707.1 L598.9,708.4 L601.9,709.7 L604.9,711.1 L607.9,712.4 L610.9,713.8 L613.9,715.1 L616.9,716.5 L619.9,717.8 L622.9,719.2 L625.9,720.6 L628.9,722.0 L631.9,723.4 L634.9,724.8 L637.9,726.3 L640.9,727.7 L643.9,729.1 L646.9,730.6 L649.9,732.0 L652.9,733.5 L655.9,735.0 L658.9,736.4 L661.9,737.9 L664.9,739.4 L667.9,740.9 L670.9,742.4 L673.9,744.0 L676.9,745.5 L679.9,747.0 L682.9,748.6 L685.9,750.1 L688.9,751.7 L691.9,753.2 L694.9,754.8 L697.9,756.4" fill="none" stroke="#c68a94" stroke-width="2.8" stroke-linecap="round" stroke-linejoin="round"/>
<path d="M97.9,669.0 L100.9,668.6 L103.9,668.3 L106.9,668.0 L109.9,667.7 L112.9,667.4 L115.9,667.1 L118.9,666.8 L121.9,666.5 L124.9,666.3 L127.9,666.0 L130.9,665.8 L133.9,665.5 L136.9,665.3 L139.9,665.1 L142.9,664.9 L145.9,664.7 L148.9,664.6 L151.9,664.4 L154.9,664.3 L157.9,664.1 L160.9,664.0 L163.9,663.9 L166.9,663.8 L169.9,663.7 L172.9,663.6 L175.9,663.5 L178.9,663.4 L181.9,663.4 L184.9,663.3 L187.9,663.3 L190.9,663.3 L193.9,663.3 L196.9,663.3 L199.9,663.3 L202.9,663.3 L205.9,663.3 L208.9,663.4 L211.9,663.4 L214.9,663.5 L217.9,663.6 L220.9,663.7 L223.9,663.8 L226.9,663.9 L229.9,664.0 L232.9,664.1 L235.9,664.2 L238.9,664.4 L241.9,664.5 L244.9,664.7 L247.9,664.9 L250.9,665.1 L253.9,665.3 L256.9,665.5 L259.9,665.7 L262.9,666.0 L265.9,666.2 L268.9,666.5 L271.9,666.7 L274.9,667.0 L277.9,667.3 L280.9,667.6 L283.9,667.9 L286.9,668.2 L289.9,668.5 L292.9,668.9 L295.9,669.2 L298.9,669.6 L301.9,669.9 L304.9,670.3 L307.9,670.7 L310.9,671.1 L313.9,671.5 L316.9,671.9 L319.9,672.4 L322.9,672.8 L325.9,673.3 L328.9,673.7 L331.9,674.2 L334.9,674.7 L337.9,675.2 L340.9,675.7 L343.9,676.2 L346.9,676.7 L349.9,677.2 L352.9,677.8 L355.9,678.3 L358.9,678.9 L361.9,679.5 L364.9,680.1 L367.9,680.7 L370.9,681.3 L373.9,681.9 L376.9,682.5 L379.9,683.2 L382.9,683.8 L385.9,684.5 L388.9,685.1 L391.9,685.8 L394.9,686.5 L397.9,687.2 L400.9,687.9 L403.9,688.6 L406.9,689.4 L409.9,690.1 L412.9,690.9 L415.9,691.6 L418.9,692.4 L421.9,693.2 L424.9,694.0 L427.9,694.8 L430.9,695.6 L433.9,696.4 L436.9,697.2 L439.9,698.1 L442.9,698.9 L445.9,699.8 L448.9,700.6 L451.9,701.5 L454.9,702.4 L457.9,703.3 L460.9,704.2 L463.9,705.2 L466.9,706.1 L469.9,707.0 L472.9,708.0 L475.9,708.9 L478.9,709.9 L481.9,710.9 L484.9,711.9 L487.9,712.9 L490.9,713.9 L493.9,714.9 L496.9,716.0 L499.9,717.0 L502.9,718.0 L505.9,719.1 L508.9,720.2 L511.9,721.3 L514.9,722.4 L517.9,723.5 L520.9,724.6 L523.9,725.7 L526.9,726.8 L529.9,728.0 L532.9,729.1 L535.9,730.3 L538.9,731.4 L541.9,732.6 L544.9,733.8 L547.9,735.0 L550.9,736.2 L553.9,737.5 L556.9,738.7 L559.9,739.9 L562.9,741.2 L565.9,742.4 L568.9,743.7 L571.9,745.0 L574.9,746.3 L577.9,747.6 L580.9,748.9 L583.9,750.2 L586.9,751.5 L589.9,752.9 L592.9,754.2 L595.9,755.6 L598.9,756.9 L601.9,758.3 L604.9,759.7 L607.9,761.1 L610.9,762.5 L613.9,763.9 L616.2,765.0" fill="none" stroke="#b8c196" stroke-opacity="0.22" stroke-width="5.4" stroke-linecap="round" stroke-linejoin="round"/><path d="M97.9,669.0 L100.9,668.6 L103.9,668.3 L106.9,668.0 L109.9,667.7 L112.9,667.4 L115.9,667.1 L118.9,666.8 L121.9,666.5 L124.9,666.3 L127.9,666.0 L130.9,665.8 L133.9,665.5 L136.9,665.3 L139.9,665.1 L142.9,664.9 L145.9,664.7 L148.9,664.6 L151.9,664.4 L154.9,664.3 L157.9,664.1 L160.9,664.0 L163.9,663.9 L166.9,663.8 L169.9,663.7 L172.9,663.6 L175.9,663.5 L178.9,663.4 L181.9,663.4 L184.9,663.3 L187.9,663.3 L190.9,663.3 L193.9,663.3 L196.9,663.3 L199.9,663.3 L202.9,663.3 L205.9,663.3 L208.9,663.4 L211.9,663.4 L214.9,663.5 L217.9,663.6 L220.9,663.7 L223.9,663.8 L226.9,663.9 L229.9,664.0 L232.9,664.1 L235.9,664.2 L238.9,664.4 L241.9,664.5 L244.9,664.7 L247.9,664.9 L250.9,665.1 L253.9,665.3 L256.9,665.5 L259.9,665.7 L262.9,666.0 L265.9,666.2 L268.9,666.5 L271.9,666.7 L274.9,667.0 L277.9,667.3 L280.9,667.6 L283.9,667.9 L286.9,668.2 L289.9,668.5 L292.9,668.9 L295.9,669.2 L298.9,669.6 L301.9,669.9 L304.9,670.3 L307.9,670.7 L310.9,671.1 L313.9,671.5 L316.9,671.9 L319.9,672.4 L322.9,672.8 L325.9,673.3 L328.9,673.7 L331.9,674.2 L334.9,674.7 L337.9,675.2 L340.9,675.7 L343.9,676.2 L346.9,676.7 L349.9,677.2 L352.9,677.8 L355.9,678.3 L358.9,678.9 L361.9,679.5 L364.9,680.1 L367.9,680.7 L370.9,681.3 L373.9,681.9 L376.9,682.5 L379.9,683.2 L382.9,683.8 L385.9,684.5 L388.9,685.1 L391.9,685.8 L394.9,686.5 L397.9,687.2 L400.9,687.9 L403.9,688.6 L406.9,689.4 L409.9,690.1 L412.9,690.9 L415.9,691.6 L418.9,692.4 L421.9,693.2 L424.9,694.0 L427.9,694.8 L430.9,695.6 L433.9,696.4 L436.9,697.2 L439.9,698.1 L442.9,698.9 L445.9,699.8 L448.9,700.6 L451.9,701.5 L454.9,702.4 L457.9,703.3 L460.9,704.2 L463.9,705.2 L466.9,706.1 L469.9,707.0 L472.9,708.0 L475.9,708.9 L478.9,709.9 L481.9,710.9 L484.9,711.9 L487.9,712.9 L490.9,713.9 L493.9,714.9 L496.9,716.0 L499.9,717.0 L502.9,718.0 L505.9,719.1 L508.9,720.2 L511.9,721.3 L514.9,722.4 L517.9,723.5 L520.9,724.6 L523.9,725.7 L526.9,726.8 L529.9,728.0 L532.9,729.1 L535.9,730.3 L538.9,731.4 L541.9,732.6 L544.9,733.8 L547.9,735.0 L550.9,736.2 L553.9,737.5 L556.9,738.7 L559.9,739.9 L562.9,741.2 L565.9,742.4 L568.9,743.7 L571.9,745.0 L574.9,746.3 L577.9,747.6 L580.9,748.9 L583.9,750.2 L586.9,751.5 L589.9,752.9 L592.9,754.2 L595.9,755.6 L598.9,756.9 L601.9,758.3 L604.9,759.7 L607.9,761.1 L610.9,762.5 L613.9,763.9 L616.2,765.0" fill="none" stroke="#b8c196" stroke-width="2.8" stroke-linecap="round" stroke-linejoin="round"/>
<line x1="1024.5" y1="139.0" x2="1061" y2="139.0" stroke="#38b4e6" stroke-width="3.6"/>
<text x="1066" y="145.6" class="lg" textLength="39" lengthAdjust="spacingAndGlyphs">MAX</text>
<line x1="1024.5" y1="206.1" x2="1061" y2="206.1" stroke="#1a9a5c" stroke-width="3.6"/>
<text x="1066" y="212.7" class="lg" textLength="72" lengthAdjust="spacingAndGlyphs">5%PWM</text>
<line x1="1024.5" y1="273.1" x2="1061" y2="273.1" stroke="#eac437" stroke-width="3.6"/>
<text x="1066" y="279.7" class="lg" textLength="83" lengthAdjust="spacingAndGlyphs">20%PWM</text>
<line x1="1024.5" y1="340.1" x2="1061" y2="340.1" stroke="#6a5a8a" stroke-width="3.6"/>
<text x="1066" y="346.8" class="lg" textLength="83" lengthAdjust="spacingAndGlyphs">31%PWM</text>
<line x1="1024.5" y1="407.2" x2="1061" y2="407.2" stroke="#3a8394" stroke-width="3.6"/>
<text x="1066" y="413.8" class="lg" textLength="83" lengthAdjust="spacingAndGlyphs">41%PWM</text>
<line x1="1024.5" y1="474.2" x2="1061" y2="474.2" stroke="#d27f3c" stroke-width="3.6"/>
<text x="1066" y="480.9" class="lg" textLength="83" lengthAdjust="spacingAndGlyphs">52%PWM</text>
<line x1="1024.5" y1="541.3" x2="1061" y2="541.3" stroke="#8e9cc6" stroke-width="3.6"/>
<text x="1066" y="547.9" class="lg" textLength="83" lengthAdjust="spacingAndGlyphs">62%PWM</text>
<line x1="1024.5" y1="608.3" x2="1061" y2="608.3" stroke="#c68a94" stroke-width="3.6"/>
<text x="1066" y="614.9" class="lg" textLength="83" lengthAdjust="spacingAndGlyphs">73%PWM</text>
<line x1="1024.5" y1="675.4" x2="1061" y2="675.4" stroke="#b8c196" stroke-width="3.6"/>
<text x="1066" y="682.0" class="lg" textLength="83" lengthAdjust="spacingAndGlyphs">88%PWM</text>
<text x="594.5" y="37" class="ttl" font-size="32">H</text>
<rect x="620.5" y="25.5" width="28.5" height="3.6" fill="#111"/>
<text x="651.5" y="37" class="ttl" font-size="32">Q</text>
<g transform="translate(44,496) rotate(-90)"><text x="1.8" y="0" class="ttl" font-size="29" textLength="18" lengthAdjust="spacingAndGlyphs">H</text><text y="0" class="ttl" font-size="29"><tspan x="30.8">(</tspan><tspan x="42.3">m</tspan><tspan x="70.3">)</tspan></text></g>
<text y="877.5" class="ttl" font-size="29"><tspan x="484">Q</tspan><tspan x="514">(</tspan><tspan x="525.2">m</tspan></text><text x="551.5" y="880.5" class="ttl" font-size="33">³</text>
<line x1="566.8" y1="882" x2="576.6" y2="854.5" stroke="#111" stroke-width="3.3"/>
<text y="877.5" class="ttl" font-size="29"><tspan x="580">h</tspan><tspan x="600">)</tspan></text>
</svg>
</body></html>
